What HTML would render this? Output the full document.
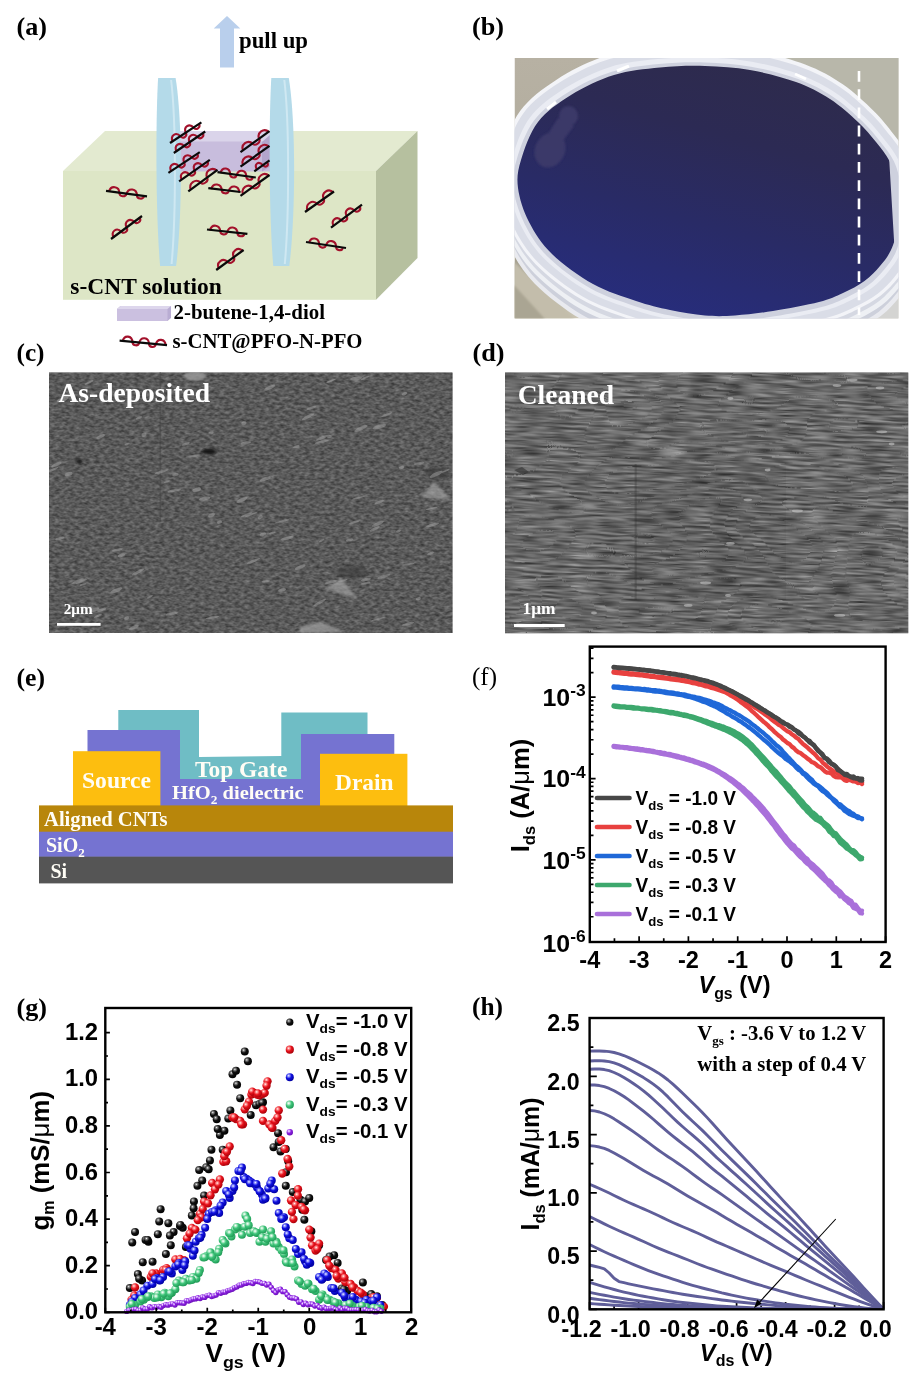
<!DOCTYPE html>
<html lang="en">
<head>
<meta charset="utf-8">
<title>Aligned s-CNT film figure</title>
<style>
html,body{margin:0;padding:0;background:#fff;}
body{width:913px;height:1381px;overflow:hidden;}
svg{display:block;}
.ts{font-family:"Liberation Serif", "DejaVu Serif", serif;font-weight:bold;}
.ta{font-family:"Liberation Sans", "DejaVu Sans", sans-serif;font-weight:bold;}
</style>
</head>
<body>
<svg width="913" height="1381" viewBox="0 0 913 1381">
<defs>
<clipPath id="cb"><rect x="514.5" y="58" width="384" height="260.5"/></clipPath>
<linearGradient id="gw" x1="0.72" y1="0" x2="0.3" y2="1"><stop offset="0" stop-color="#2e2b4c"/><stop offset="0.3" stop-color="#2c2a54"/><stop offset="0.62" stop-color="#292b66"/><stop offset="1" stop-color="#272d7e"/></linearGradient>
<linearGradient id="gbg" x1="0" y1="0" x2="0" y2="1"><stop offset="0" stop-color="#b7b1a3"/><stop offset="0.5" stop-color="#b1ac9d"/><stop offset="0.78" stop-color="#a6a190"/><stop offset="1" stop-color="#cbc5b3"/></linearGradient>
<filter id="bl1" x="-20%" y="-20%" width="140%" height="140%"><feGaussianBlur stdDeviation="0.7"/></filter>
<filter id="bl2" x="-20%" y="-20%" width="140%" height="140%"><feGaussianBlur stdDeviation="1.2"/></filter>
<filter id="bl4" x="-30%" y="-30%" width="160%" height="160%"><feGaussianBlur stdDeviation="3"/></filter>
<path id="well" d="M899 205 C899.25 212.67 898.83 220.5 897.5 228 C896.17 235.5 893.92 243.67 891 250 C888.08 256.33 884.42 260.83 880 266 C875.58 271.17 870.67 276.5 864.5 281 C858.33 285.5 850.58 289.5 843 293 C835.42 296.5 830.67 299 819 302 C807.33 305 787 308.75 773 311 C759 313.25 746.33 314.75 735 315.5 C723.67 316.25 715.83 316.42 705 315.5 C694.17 314.58 681.5 312.42 670 310 C658.5 307.58 648.83 305.33 636 301 C623.17 296.67 607 291.83 593 284 C579 276.17 562.67 264.33 552 254 C541.33 243.67 534.67 233 529 222 C523.33 211 519.33 198.33 518 188 C516.67 177.67 517.67 171 521 160 C524.33 149 529.67 132.83 538 122 C546.33 111.17 558.33 102.83 571 95 C583.67 87.17 599.17 79.58 614 75 C628.83 70.42 644.83 69 660 67.5 C675.17 66 690 65.58 705 66 C720 66.42 734.83 67.33 750 70 C765.17 72.67 782.67 77.17 796 82 C809.33 86.83 819.67 92.33 830 99 C840.33 105.67 850.33 114.83 858 122 C865.67 129.17 870.75 135.5 876 142 C881.25 148.5 886.17 154.33 889.5 161 C892.83 167.67 894.42 174.67 896 182 C897.58 189.33 898.75 197.33 899 205Z"/>
<clipPath id="cflat"><polygon points="500,40 889.3,40 889.3,161 894.2,243 894.2,340 500,340"/></clipPath>
<filter id="nc" x="0" y="0" width="100%" height="100%" color-interpolation-filters="sRGB"><feTurbulence type="fractalNoise" baseFrequency="0.2 0.36" numOctaves="2" seed="7" result="n"/><feColorMatrix in="n" type="matrix" values="0.36 0 0 0 0.172  0.36 0 0 0 0.172  0.36 0 0 0 0.172  0 0 0 0 1"/></filter>
<clipPath id="cc"><rect x="49" y="372.5" width="403.5" height="260.5"/></clipPath>
<filter id="nd" x="0" y="0" width="100%" height="100%" color-interpolation-filters="sRGB"><feTurbulence type="fractalNoise" baseFrequency="0.035 0.42" numOctaves="2" seed="11" result="n"/><feTurbulence type="fractalNoise" baseFrequency="0.012 0.022" numOctaves="1" seed="4" result="w"/><feDisplacementMap in="n" in2="w" scale="11" xChannelSelector="R" yChannelSelector="G" result="d"/><feColorMatrix in="d" type="matrix" values="0.62 0 0 0 0.096  0.62 0 0 0 0.096  0.62 0 0 0 0.096  0 0 0 0 1"/></filter>
<clipPath id="cd"><rect x="505" y="372.5" width="403.3" height="260.8"/></clipPath>
<radialGradient id="rgk" cx="0.36" cy="0.32" r="0.7"><stop offset="0" stop-color="#ffffff"/><stop offset="0.16" stop-color="#8a8a8a"/><stop offset="0.5" stop-color="#111111"/><stop offset="1" stop-color="#000000"/></radialGradient>
<radialGradient id="rgr" cx="0.36" cy="0.32" r="0.7"><stop offset="0" stop-color="#ffffff"/><stop offset="0.16" stop-color="#ff9a9a"/><stop offset="0.5" stop-color="#e8121c"/><stop offset="1" stop-color="#a80008"/></radialGradient>
<radialGradient id="rgb" cx="0.36" cy="0.32" r="0.7"><stop offset="0" stop-color="#ffffff"/><stop offset="0.16" stop-color="#9aa0ff"/><stop offset="0.5" stop-color="#1010e0"/><stop offset="1" stop-color="#0000a0"/></radialGradient>
<radialGradient id="rgg" cx="0.36" cy="0.32" r="0.7"><stop offset="0" stop-color="#ffffff"/><stop offset="0.16" stop-color="#c9f2d8"/><stop offset="0.5" stop-color="#3fc47a"/><stop offset="1" stop-color="#1f9a55"/></radialGradient>
<radialGradient id="rgp" cx="0.36" cy="0.32" r="0.7"><stop offset="0" stop-color="#ffffff"/><stop offset="0.16" stop-color="#dcb4ff"/><stop offset="0.5" stop-color="#8a20e0"/><stop offset="1" stop-color="#6a10b8"/></radialGradient>
<clipPath id="ch"><rect x="589.6" y="1018" width="294" height="291.3"/></clipPath>
</defs>
<rect width="913" height="1381" fill="#ffffff"/>
<text class="ts" x="16.5" y="34.5" font-size="26" textLength="30.5" lengthAdjust="spacingAndGlyphs">(a)</text>
<text class="ts" x="472" y="34.5" font-size="26" textLength="32" lengthAdjust="spacingAndGlyphs">(b)</text>
<text class="ts" x="16.5" y="361" font-size="26" textLength="28" lengthAdjust="spacingAndGlyphs">(c)</text>
<text class="ts" x="472.5" y="361" font-size="26" textLength="32" lengthAdjust="spacingAndGlyphs">(d)</text>
<text class="ts" x="16.5" y="686.3" font-size="26" textLength="28.5" lengthAdjust="spacingAndGlyphs">(e)</text>
<text class="ts" x="472" y="685.3" font-size="26" textLength="25" lengthAdjust="spacingAndGlyphs" style="font-weight:normal;">(f)</text>
<text class="ts" x="16.5" y="1016.4" font-size="26" textLength="30.5" lengthAdjust="spacingAndGlyphs">(g)</text>
<text class="ts" x="472" y="1014.6" font-size="26" textLength="31" lengthAdjust="spacingAndGlyphs">(h)</text>
<g id="pa">
<path d="M227 16 L240.3 28.5 L234 28.5 L234 67.5 L220 67.5 L220 28.5 L213.7 28.5 Z" fill="#b9cfec"/>
<text class="ts" x="239" y="48" font-size="22.8" textLength="69" lengthAdjust="spacingAndGlyphs">pull up</text>
<polygon points="63,171 105,131 417.5,131 376,171" fill="#e3ead0"/>
<polygon points="376,171 417.5,131 417.5,258 376,299.8" fill="#b6c09f"/>
<rect x="63" y="171" width="313" height="128.8" fill="#dde6c6"/>
<rect x="180" y="131" width="91" height="40.5" fill="#c8bddd"/>
<rect x="180" y="131" width="91" height="10.5" fill="#dad4ea"/>
<polygon points="262,142 271,134 271,166 262,171.5" fill="#b3a5cc"/>
<path d="M158.1 78 L175.6 78 C182.6 120 182.6 215 176.1 266 L160.1 266 C155.6 215 155.6 120 158.1 78 Z" fill="#b4dae9"/>
<path d="M171.1 80 C176.1 120 176.1 215 171.6 264" fill="none" stroke="#cfe8f2" stroke-width="2"/>
<path d="M271.3 78 L288.8 78 C295.8 120 295.8 215 289.3 266 L273.3 266 C268.8 215 268.8 120 271.3 78 Z" fill="#b4dae9"/>
<path d="M284.3 80 C289.3 120 289.3 215 284.8 264" fill="none" stroke="#cfe8f2" stroke-width="2"/>
<g transform="translate(170 143) rotate(-33.39)"><path d="M3 0.6 C3.95 -6.5 11.53 -6.5 12.48 0.6 C13.11 4 18.17 4 18.8 0.6 C19.75 -6.5 27.34 -6.5 28.29 0.6 C28.92 4 33.98 4 34.61 0.6" fill="none" stroke="#a3112b" stroke-width="2.1"/><line x1="0" y1="0" x2="37.61" y2="0" stroke="#0a0a0a" stroke-width="2.2"/></g>
<g transform="translate(173.8 153) rotate(-34.4)"><path d="M3 0.6 C3.96 -6.5 11.65 -6.5 12.62 0.6 C13.26 4 18.39 4 19.03 0.6 C19.99 -6.5 27.68 -6.5 28.64 0.6 C29.29 4 34.41 4 35.06 0.6" fill="none" stroke="#a3112b" stroke-width="2.1"/><line x1="0" y1="0" x2="38.06" y2="0" stroke="#0a0a0a" stroke-width="2.2"/></g>
<g transform="translate(168.4 172.9) rotate(-33.39)"><path d="M3 0.6 C3.95 -6.5 11.53 -6.5 12.48 0.6 C13.11 4 18.17 4 18.8 0.6 C19.75 -6.5 27.34 -6.5 28.29 0.6 C28.92 4 33.98 4 34.61 0.6" fill="none" stroke="#a3112b" stroke-width="2.1"/><line x1="0" y1="0" x2="37.61" y2="0" stroke="#0a0a0a" stroke-width="2.2"/></g>
<g transform="translate(179.1 181.3) rotate(-35)"><path d="M3 0.6 C3.94 -6.5 11.5 -6.5 12.44 0.6 C13.07 4 18.11 4 18.74 0.6 C19.68 -6.5 27.24 -6.5 28.18 0.6 C28.81 4 33.85 4 34.48 0.6" fill="none" stroke="#a3112b" stroke-width="2.1"/><line x1="0" y1="0" x2="37.48" y2="0" stroke="#0a0a0a" stroke-width="2.2"/></g>
<g transform="translate(188.3 191.3) rotate(-36.36)"><path d="M3 0.6 C4.21 -6.5 13.89 -6.5 15.1 0.6 C15.91 4 22.37 4 23.17 0.6 C24.38 -6.5 34.07 -6.5 35.28 0.6" fill="none" stroke="#a3112b" stroke-width="2.1"/><line x1="0" y1="0" x2="36.26" y2="0" stroke="#0a0a0a" stroke-width="2.2"/></g>
<g transform="translate(240.5 152.2) rotate(-35.91)"><path d="M3 0.6 C4.19 -6.5 13.73 -6.5 14.92 0.6 C15.72 4 22.08 4 22.87 0.6 C24.06 -6.5 33.6 -6.5 34.79 0.6" fill="none" stroke="#a3112b" stroke-width="2.1"/><line x1="0" y1="0" x2="35.81" y2="0" stroke="#0a0a0a" stroke-width="2.2"/></g>
<g transform="translate(240.5 166.7) rotate(-35.78)"><path d="M3 0.6 C4.19 -6.5 13.71 -6.5 14.9 0.6 C15.69 4 22.04 4 22.83 0.6 C24.02 -6.5 33.54 -6.5 34.73 0.6" fill="none" stroke="#a3112b" stroke-width="2.1"/><line x1="0" y1="0" x2="35.75" y2="0" stroke="#0a0a0a" stroke-width="2.2"/></g>
<g transform="translate(254.3 171.3) rotate(-35.64)"><path d="M3 0.6 C3.76 -6.5 9.86 -6.5 10.62 0.6 C11.13 4 15.2 4 15.7 0.6" fill="none" stroke="#a3112b" stroke-width="2.1"/><line x1="0" y1="0" x2="18.7" y2="0" stroke="#0a0a0a" stroke-width="2.2"/></g>
<g transform="translate(217.5 172.1) rotate(8.03)"><path d="M3 0.6 C3.98 -6.5 11.82 -6.5 12.8 0.6 C13.46 4 18.69 4 19.34 0.6 C20.32 -6.5 28.16 -6.5 29.14 0.6 C29.8 4 35.03 4 35.68 0.6" fill="none" stroke="#a3112b" stroke-width="2.1"/><line x1="0" y1="0" x2="38.68" y2="0" stroke="#0a0a0a" stroke-width="2.2"/></g>
<g transform="translate(208.3 188.2) rotate(6.73)"><path d="M3 0.6 C4.06 -6.5 12.51 -6.5 13.57 0.6 C14.27 4 19.91 4 20.62 0.6 C21.67 -6.5 30.13 -6.5 31.19 0.6" fill="none" stroke="#a3112b" stroke-width="2.1"/><line x1="0" y1="0" x2="32.42" y2="0" stroke="#0a0a0a" stroke-width="2.2"/></g>
<g transform="translate(240.5 195.9) rotate(-35.78)"><path d="M3 0.6 C4.19 -6.5 13.71 -6.5 14.9 0.6 C15.69 4 22.04 4 22.83 0.6 C24.02 -6.5 33.54 -6.5 34.73 0.6" fill="none" stroke="#a3112b" stroke-width="2.1"/><line x1="0" y1="0" x2="35.75" y2="0" stroke="#0a0a0a" stroke-width="2.2"/></g>
<g transform="translate(106 190.8) rotate(7.64)"><path d="M3 0.6 C4.06 -6.5 12.55 -6.5 13.61 0.6 C14.32 4 19.98 4 20.68 0.6 C21.74 -6.5 30.23 -6.5 31.29 0.6 C32 4 37.66 4 38.37 0.6" fill="none" stroke="#a3112b" stroke-width="2.1"/><line x1="0" y1="0" x2="41.37" y2="0" stroke="#0a0a0a" stroke-width="2.2"/></g>
<g transform="translate(111 239) rotate(-36.57)"><path d="M3 0.6 C3.98 -6.5 11.8 -6.5 12.78 0.6 C13.43 4 18.65 4 19.3 0.6 C20.28 -6.5 28.1 -6.5 29.08 0.6 C29.73 4 34.95 4 35.6 0.6" fill="none" stroke="#a3112b" stroke-width="2.1"/><line x1="0" y1="0" x2="38.6" y2="0" stroke="#0a0a0a" stroke-width="2.2"/></g>
<g transform="translate(207 229.5) rotate(6.08)"><path d="M3 0.6 C4.04 -6.5 12.35 -6.5 13.39 0.6 C14.08 4 19.62 4 20.31 0.6 C21.35 -6.5 29.66 -6.5 30.7 0.6 C31.4 4 36.94 4 37.63 0.6" fill="none" stroke="#a3112b" stroke-width="2.1"/><line x1="0" y1="0" x2="40.63" y2="0" stroke="#0a0a0a" stroke-width="2.2"/></g>
<g transform="translate(216.2 270) rotate(-36.13)"><path d="M3 0.6 C4.12 -6.5 13.05 -6.5 14.17 0.6 C14.91 4 20.87 4 21.62 0.6 C22.73 -6.5 31.67 -6.5 32.78 0.6" fill="none" stroke="#a3112b" stroke-width="2.1"/><line x1="0" y1="0" x2="33.92" y2="0" stroke="#0a0a0a" stroke-width="2.2"/></g>
<g transform="translate(305 212) rotate(-35.26)"><path d="M3 0.6 C4.18 -6.5 13.63 -6.5 14.81 0.6 C15.59 4 21.89 4 22.68 0.6 C23.86 -6.5 33.3 -6.5 34.48 0.6" fill="none" stroke="#a3112b" stroke-width="2.1"/><line x1="0" y1="0" x2="35.51" y2="0" stroke="#0a0a0a" stroke-width="2.2"/></g>
<g transform="translate(331 227.6) rotate(-36.57)"><path d="M3 0.6 C3.98 -6.5 11.8 -6.5 12.78 0.6 C13.43 4 18.65 4 19.3 0.6 C20.28 -6.5 28.1 -6.5 29.08 0.6 C29.73 4 34.95 4 35.6 0.6" fill="none" stroke="#a3112b" stroke-width="2.1"/><line x1="0" y1="0" x2="38.6" y2="0" stroke="#0a0a0a" stroke-width="2.2"/></g>
<g transform="translate(306 242) rotate(8.53)"><path d="M3 0.6 C4.03 -6.5 12.3 -6.5 13.33 0.6 C14.02 4 19.53 4 20.22 0.6 C21.26 -6.5 29.52 -6.5 30.56 0.6 C31.25 4 36.76 4 37.45 0.6" fill="none" stroke="#a3112b" stroke-width="2.1"/><line x1="0" y1="0" x2="40.45" y2="0" stroke="#0a0a0a" stroke-width="2.2"/></g>
<text class="ts" x="70.3" y="294" font-size="23.4" textLength="151.5" lengthAdjust="spacingAndGlyphs">s-CNT solution</text>
<polygon points="117,309 120.5,306 171,306 171,318 167.5,321 117,321" fill="#b9add3"/>
<rect x="117" y="309" width="50.5" height="12" fill="#cbc0e0"/>
<polygon points="117,309 120.5,306 171,306 167.5,309" fill="#ddd6ec"/>
<text class="ts" x="173.5" y="319.3" font-size="20.9" textLength="151.5" lengthAdjust="spacingAndGlyphs">2-butene-1,4-diol</text>
<g transform="translate(119.6 340.6) rotate(5.54)"><path d="M3 0.6 C4 -6.5 11.99 -6.5 12.99 0.6 C13.66 4 18.98 4 19.65 0.6 C20.65 -6.5 28.64 -6.5 29.64 0.6 C30.3 4 35.63 4 36.3 0.6 C37.3 -6.5 45.29 -6.5 46.29 0.6" fill="none" stroke="#a3112b" stroke-width="2.1"/><line x1="0" y1="0" x2="47.62" y2="0" stroke="#0a0a0a" stroke-width="2.2"/></g>
<text class="ts" x="172.5" y="347.8" font-size="20.8" textLength="190" lengthAdjust="spacingAndGlyphs">s-CNT@PFO-N-PFO</text>
</g>
<g id="pb" clip-path="url(#cb)">
<rect x="514.5" y="58" width="384" height="260.5" fill="url(#gbg)"/>
<rect x="780" y="58" width="120" height="100" fill="#b8b7aa"/>
<polygon points="514,262 575,319 514,319" fill="#c3bdab" filter="url(#bl2)"/>
<polygon points="514,285 545,319 514,319" fill="#aaa593" filter="url(#bl2)"/>
<rect x="850" y="262" width="50" height="60" fill="#d4d4d2"/>
<use href="#well" transform="translate(708.5 209.7) scale(1.1102 1.1683) translate(-708.5 -190.7)" fill="#e9eaef"/>
<use href="#well" transform="translate(708.5 208.7) scale(1.0919 1.1402) translate(-708.5 -190.7)" fill="#cdd0db"/>
<use href="#well" transform="translate(708.5 199.7) scale(1.1102 1.1683) translate(-708.5 -190.7)" fill="#eef0f4"/>
<use href="#well" transform="translate(708.5 197.7) scale(1.0945 1.1442) translate(-708.5 -190.7)" fill="#d5d8e2"/>
<use href="#well" transform="translate(708.5 190.7) scale(1.1050 1.1603) translate(-708.5 -190.7)" fill="#f3f4f8"/>
<use href="#well" transform="translate(708.5 191.2) scale(1.0866 1.1322) translate(-708.5 -190.7)" fill="#dadde7"/>
<use href="#well" transform="translate(708.5 191.2) scale(1.0472 1.0721) translate(-708.5 -190.7)" fill="#eaecf3"/>
<use href="#well" transform="translate(708.5 191.7) scale(1.0236 1.0361) translate(-708.5 -190.7)" fill="#ced1de"/>
<g clip-path="url(#cflat)"><use href="#well" fill="url(#gw)"/></g>
<g filter="url(#bl2)" fill="#3e3b6a" opacity="0.9"><ellipse cx="568.5" cy="116" rx="9.5" ry="10"/><ellipse cx="550" cy="150" rx="15" ry="18" transform="rotate(25 550 150)"/><polygon points="558,118 574,126 562,142 548,134"/></g>
<path d="M547 109 L556 102" stroke="#fff" stroke-width="3" filter="url(#bl1)"/>
<path d="M617 71 L629 66" stroke="#fff" stroke-width="3" filter="url(#bl1)"/>
<path d="M795 74 L806 79" stroke="#fff" stroke-width="2.5" filter="url(#bl1)"/>
<line x1="859" y1="71" x2="859" y2="315" stroke="#fff" stroke-width="2.6" stroke-dasharray="10.8 7.4"/>
</g>
<g id="pc" clip-path="url(#cc)">
<rect x="49" y="372.5" width="403.5" height="260.5" fill="#5b5b5b"/>
<rect x="49" y="372.5" width="403.5" height="260.5" filter="url(#nc)"/>
<g filter="url(#bl2)">
<polygon points="434,482 421,497.5 452,500" fill="#a8a8a8" opacity="0.6"/>
<polygon points="340.8,578 325.6,589 358.4,599" fill="#a8a8a8" opacity="0.6"/>
<ellipse cx="437" cy="473" rx="12" ry="6" fill="#333" opacity="0.55"/>
<ellipse cx="352" cy="572" rx="16" ry="7" fill="#383838" opacity="0.5"/>
<ellipse cx="195" cy="376" rx="11" ry="5" fill="#9a9a9a" opacity="0.8"/>
<ellipse cx="209" cy="451.5" rx="7.5" ry="2.8" fill="#141414"/>
<ellipse cx="79.5" cy="461.5" rx="3.2" ry="2.2" fill="#1a1a1a"/>
<polygon points="300,627 320,622 345,632 300,633" fill="#a0a0a0" opacity="0.7"/>
</g>
<rect x="159.5" y="372" width="1.6" height="150" fill="#3d3d3d" opacity="0.4"/>
<g fill="#a4a4a4" opacity="0.5" filter="url(#bl1)"><ellipse cx="117.32" cy="549.82" rx="5.67" ry="1.43" transform="rotate(-12.75 117.32 549.82)"/><ellipse cx="365.88" cy="579.58" rx="5.06" ry="1.46" transform="rotate(-13.19 365.88 579.58)"/><ellipse cx="53.26" cy="469.5" rx="5.43" ry="0.98" transform="rotate(-25.46 53.26 469.5)"/><ellipse cx="143.97" cy="434.64" rx="2.71" ry="2" transform="rotate(-24.25 143.97 434.64)"/><ellipse cx="398.52" cy="531.2" rx="2.67" ry="1.26" transform="rotate(-18.95 398.52 531.2)"/><ellipse cx="97.86" cy="615.89" rx="4.34" ry="1.07" transform="rotate(-25.99 97.86 615.89)"/><ellipse cx="101.45" cy="609.84" rx="4.77" ry="1.51" transform="rotate(-15.54 101.45 609.84)"/><ellipse cx="243.94" cy="423.1" rx="2.69" ry="1.85" transform="rotate(-13.17 243.94 423.1)"/><ellipse cx="360.98" cy="428.56" rx="7.34" ry="1.88" transform="rotate(-24.61 360.98 428.56)"/><ellipse cx="354.07" cy="522.35" rx="6.15" ry="1.03" transform="rotate(-18.48 354.07 522.35)"/><ellipse cx="379.5" cy="426.67" rx="7.12" ry="1.88" transform="rotate(-17.01 379.5 426.67)"/><ellipse cx="196.63" cy="489.73" rx="4.43" ry="1.99" transform="rotate(-16.51 196.63 489.73)"/><ellipse cx="62.63" cy="399.5" rx="6.09" ry="1.99" transform="rotate(-18.91 62.63 399.5)"/><ellipse cx="246.65" cy="514.71" rx="6.24" ry="1.14" transform="rotate(-21.4 246.65 514.71)"/><ellipse cx="272.37" cy="532.9" rx="3.4" ry="1.09" transform="rotate(-15.66 272.37 532.9)"/><ellipse cx="419.12" cy="463.35" rx="5.49" ry="1.24" transform="rotate(-10.27 419.12 463.35)"/><ellipse cx="78" cy="581.05" rx="6.39" ry="1.31" transform="rotate(-23.03 78 581.05)"/><ellipse cx="319.66" cy="602.47" rx="7.29" ry="1.35" transform="rotate(-29.76 319.66 602.47)"/><ellipse cx="432.73" cy="524.81" rx="6.92" ry="1.44" transform="rotate(-16.26 432.73 524.81)"/><ellipse cx="149.89" cy="596.79" rx="3.31" ry="0.98" transform="rotate(-25.72 149.89 596.79)"/><ellipse cx="358.47" cy="497.76" rx="6.68" ry="0.96" transform="rotate(-13.68 358.47 497.76)"/><ellipse cx="166.79" cy="481.73" rx="3.35" ry="0.98" transform="rotate(-15.44 166.79 481.73)"/><ellipse cx="408.06" cy="623.83" rx="6.23" ry="1.43" transform="rotate(-13.55 408.06 623.83)"/><ellipse cx="431.72" cy="508.46" rx="6.14" ry="0.93" transform="rotate(-12.67 431.72 508.46)"/><ellipse cx="383.95" cy="576.4" rx="6.91" ry="1.56" transform="rotate(-17.37 383.95 576.4)"/><ellipse cx="282.13" cy="590.03" rx="4.04" ry="1.49" transform="rotate(-14.07 282.13 590.03)"/><ellipse cx="356.23" cy="378.58" rx="5.93" ry="1.95" transform="rotate(-8.52 356.23 378.58)"/><ellipse cx="287.1" cy="538.25" rx="6.76" ry="1.54" transform="rotate(-13.66 287.1 538.25)"/><ellipse cx="212.62" cy="617.6" rx="7.03" ry="1.05" transform="rotate(-10.09 212.62 617.6)"/><ellipse cx="89.2" cy="382.38" rx="4.73" ry="1.05" transform="rotate(-27.08 89.2 382.38)"/><ellipse cx="311.51" cy="407.89" rx="5.19" ry="1.26" transform="rotate(-18.87 311.51 407.89)"/><ellipse cx="138.96" cy="417.85" rx="3.42" ry="1.32" transform="rotate(-23.62 138.96 417.85)"/><ellipse cx="269.81" cy="387.64" rx="6.05" ry="1.86" transform="rotate(-25.03 269.81 387.64)"/><ellipse cx="365.13" cy="377.97" rx="4.82" ry="0.97" transform="rotate(-24.81 365.13 377.97)"/><ellipse cx="121.42" cy="555.29" rx="3.76" ry="1.67" transform="rotate(-14.9 121.42 555.29)"/><ellipse cx="68.6" cy="474" rx="4.05" ry="1.89" transform="rotate(-14.49 68.6 474)"/><ellipse cx="251.24" cy="514.43" rx="7.24" ry="1.01" transform="rotate(-21.23 251.24 514.43)"/><ellipse cx="253.25" cy="561.11" rx="7.34" ry="1.24" transform="rotate(-23.39 253.25 561.11)"/><ellipse cx="260.21" cy="517.29" rx="2.82" ry="1.8" transform="rotate(-29.49 260.21 517.29)"/><ellipse cx="192.67" cy="456.16" rx="7.47" ry="1.02" transform="rotate(-9.67 192.67 456.16)"/><ellipse cx="81.04" cy="581.21" rx="6.3" ry="1.39" transform="rotate(-21.67 81.04 581.21)"/><ellipse cx="59.83" cy="538.45" rx="4.71" ry="1.47" transform="rotate(-16.57 59.83 538.45)"/><ellipse cx="211" cy="432.82" rx="2.74" ry="1.38" transform="rotate(-13.44 211 432.82)"/><ellipse cx="330.85" cy="581.96" rx="6.12" ry="1.4" transform="rotate(-13.2 330.85 581.96)"/><ellipse cx="204.62" cy="498.67" rx="5.66" ry="1.96" transform="rotate(-9.88 204.62 498.67)"/><ellipse cx="241.96" cy="499.95" rx="6.09" ry="1.88" transform="rotate(-25.15 241.96 499.95)"/><ellipse cx="300.22" cy="567.15" rx="5.84" ry="1.84" transform="rotate(-23.38 300.22 567.15)"/><ellipse cx="322.46" cy="437.82" rx="7.08" ry="1.32" transform="rotate(-21.52 322.46 437.82)"/><ellipse cx="378.63" cy="618.85" rx="7.45" ry="0.91" transform="rotate(-14.88 378.63 618.85)"/><ellipse cx="175.45" cy="474.59" rx="3.23" ry="1.51" transform="rotate(-9.75 175.45 474.59)"/><ellipse cx="171.83" cy="613.77" rx="6.21" ry="1.41" transform="rotate(-10.38 171.83 613.77)"/><ellipse cx="430.58" cy="553.4" rx="3.53" ry="1.27" transform="rotate(-22.11 430.58 553.4)"/><ellipse cx="321.93" cy="441.74" rx="7.26" ry="1.25" transform="rotate(-13.59 321.93 441.74)"/><ellipse cx="386.77" cy="414.66" rx="5.91" ry="1.12" transform="rotate(-21.16 386.77 414.66)"/><ellipse cx="161.85" cy="471.51" rx="7.2" ry="1.41" transform="rotate(-17.61 161.85 471.51)"/><ellipse cx="296.37" cy="446.72" rx="3.37" ry="1.32" transform="rotate(-13.99 296.37 446.72)"/><ellipse cx="126.63" cy="618.12" rx="2.67" ry="1.79" transform="rotate(-28.56 126.63 618.12)"/><ellipse cx="331.02" cy="380.78" rx="5.01" ry="0.94" transform="rotate(-21.37 331.02 380.78)"/><ellipse cx="329.36" cy="436.54" rx="2.54" ry="1.5" transform="rotate(-10.08 329.36 436.54)"/><ellipse cx="174.35" cy="490.43" rx="6.97" ry="1.31" transform="rotate(-10.97 174.35 490.43)"/><ellipse cx="365.52" cy="583.23" rx="5.15" ry="0.95" transform="rotate(-12.13 365.52 583.23)"/><ellipse cx="211.58" cy="515.08" rx="3.63" ry="1.78" transform="rotate(-26.56 211.58 515.08)"/><ellipse cx="418.36" cy="598.66" rx="2.59" ry="1.54" transform="rotate(-9.77 418.36 598.66)"/><ellipse cx="408.27" cy="564.23" rx="6.3" ry="1.11" transform="rotate(-9.31 408.27 564.23)"/><ellipse cx="374.82" cy="528.84" rx="5.6" ry="1.42" transform="rotate(-25.6 374.82 528.84)"/><ellipse cx="185.85" cy="443.97" rx="4.27" ry="1.23" transform="rotate(-21.8 185.85 443.97)"/><ellipse cx="404.5" cy="393.9" rx="2.84" ry="1.46" transform="rotate(-22.92 404.5 393.9)"/><ellipse cx="127.15" cy="444" rx="2.79" ry="0.94" transform="rotate(-18.89 127.15 444)"/><ellipse cx="321.58" cy="540.6" rx="3.29" ry="1.01" transform="rotate(-28.48 321.58 540.6)"/><ellipse cx="265.27" cy="478.92" rx="5.95" ry="1.7" transform="rotate(-19.54 265.27 478.92)"/><ellipse cx="83.01" cy="584.47" rx="3.57" ry="0.94" transform="rotate(-15.75 83.01 584.47)"/><ellipse cx="262.89" cy="534.31" rx="3.37" ry="1.68" transform="rotate(-18.86 262.89 534.31)"/><ellipse cx="116.16" cy="590.44" rx="6.53" ry="1.9" transform="rotate(-22.95 116.16 590.44)"/><ellipse cx="138.06" cy="571.97" rx="7.01" ry="1.49" transform="rotate(-27.99 138.06 571.97)"/><ellipse cx="436.19" cy="474.32" rx="7.21" ry="1.93" transform="rotate(-25.47 436.19 474.32)"/><ellipse cx="56.45" cy="464.68" rx="5.57" ry="1.57" transform="rotate(-24.62 56.45 464.68)"/><ellipse cx="308.16" cy="416.69" rx="7.15" ry="1.49" transform="rotate(-27.4 308.16 416.69)"/><ellipse cx="133.9" cy="627.51" rx="5.27" ry="1.75" transform="rotate(-24.28 133.9 627.51)"/><ellipse cx="401.58" cy="467.31" rx="2.91" ry="1.35" transform="rotate(-11.92 401.58 467.31)"/><ellipse cx="265.78" cy="581.37" rx="4.31" ry="1.04" transform="rotate(-8.59 265.78 581.37)"/><ellipse cx="219.49" cy="522.27" rx="2.63" ry="1.63" transform="rotate(-12.64 219.49 522.27)"/><ellipse cx="94.39" cy="609.78" rx="5.12" ry="1.88" transform="rotate(-19.31 94.39 609.78)"/><ellipse cx="100.65" cy="436.49" rx="4.62" ry="1.6" transform="rotate(-24.96 100.65 436.49)"/><ellipse cx="349.55" cy="540" rx="3.76" ry="1.37" transform="rotate(-16.32 349.55 540)"/><ellipse cx="245.87" cy="442.9" rx="5.19" ry="1.4" transform="rotate(-8.78 245.87 442.9)"/><ellipse cx="377.87" cy="523.78" rx="6.51" ry="1.71" transform="rotate(-24.08 377.87 523.78)"/><ellipse cx="445.41" cy="470.97" rx="4.47" ry="0.9" transform="rotate(-22.62 445.41 470.97)"/><ellipse cx="282.27" cy="521.26" rx="7.49" ry="1.12" transform="rotate(-13 282.27 521.26)"/><ellipse cx="342.72" cy="580.72" rx="4.91" ry="0.96" transform="rotate(-16.15 342.72 580.72)"/><ellipse cx="379.24" cy="501.96" rx="4.81" ry="1.33" transform="rotate(-21.83 379.24 501.96)"/></g>
</g>
<text class="ts" x="58.4" y="402" font-size="27" textLength="151.6" lengthAdjust="spacingAndGlyphs" fill="#fff">As-deposited</text>
<text class="ts" x="63.7" y="614" font-size="15.5" textLength="29" lengthAdjust="spacingAndGlyphs" fill="#fff">2μm</text>
<rect x="57" y="623" width="43.6" height="2.8" fill="#fff"/>
<g id="pd" clip-path="url(#cd)">
<rect x="505" y="372.5" width="403.3" height="260.8" fill="#656565"/>
<g transform="rotate(2.2 706 503)"><rect x="480" y="350" width="460" height="310" filter="url(#nd)"/></g>
<rect x="636" y="466" width="150" height="134" fill="#000" opacity="0.05"/>
<rect x="634.6" y="464" width="2" height="136" fill="#2b2b2b" opacity="0.32"/>
<g fill="#d0d0d0" opacity="0.55" filter="url(#bl1)"><ellipse cx="730.4" cy="398.5" rx="3" ry="1.4"/><ellipse cx="837" cy="385.6" rx="4.3" ry="1.4"/><ellipse cx="881.7" cy="431.8" rx="5.6" ry="1.4"/><ellipse cx="891.6" cy="444" rx="3" ry="1.4"/><ellipse cx="747.8" cy="499.8" rx="4.3" ry="1.4"/><ellipse cx="797.4" cy="511" rx="5.6" ry="1.4"/><ellipse cx="767.6" cy="470" rx="3" ry="1.4"/><ellipse cx="730.4" cy="543.4" rx="4.3" ry="1.4"/><ellipse cx="705.6" cy="583" rx="5.6" ry="1.4"/><ellipse cx="728" cy="595.5" rx="3" ry="1.4"/><ellipse cx="688.2" cy="605.4" rx="4.3" ry="1.4"/><ellipse cx="839.6" cy="615.4" rx="5.6" ry="1.4"/><ellipse cx="594" cy="613" rx="3" ry="1.4"/><ellipse cx="880" cy="388" rx="4.3" ry="1.4"/><ellipse cx="852" cy="380" rx="5.6" ry="1.4"/></g>
<path d="M514 470 l8 -3 l7 5 l-6 3 z" fill="#2a2a2a" opacity="0.55" filter="url(#bl1)"/>
</g>
<text class="ts" x="517.7" y="404" font-size="27.5" textLength="96.3" lengthAdjust="spacingAndGlyphs" fill="#fff">Cleaned</text>
<text class="ts" x="522.5" y="613.6" font-size="17.5" textLength="33" lengthAdjust="spacingAndGlyphs" fill="#fff">1μm</text>
<rect x="514" y="624" width="50.7" height="3" fill="#fff"/>
<g id="pe">
<polygon points="118.3,710 199,710 199,757 281.3,756 281.3,712.6 367.5,712.6 367.5,734.5 301,734.5 301,779.5 180,779.5 180,730.5 118.3,730.5" fill="#6fbdc5"/>
<polygon points="87.5,730 180,730 180,779 301,779 301,734 394.3,734 394.3,754.5 320,754.5 320,806 160,806 160,752 87.5,752" fill="#7573d1"/>
<rect x="73" y="751.2" width="87.4" height="55" fill="#fdbe0f"/>
<rect x="320" y="753.8" width="87.4" height="52.4" fill="#fdbe0f"/>
<rect x="39" y="805.4" width="414" height="26.6" fill="#b8860b"/>
<rect x="39" y="831.7" width="414" height="25.2" fill="#7573d1"/>
<rect x="39" y="856.6" width="414" height="26.8" fill="#555555"/>
<text class="ts" x="82" y="788" font-size="23" textLength="69" lengthAdjust="spacingAndGlyphs" fill="#fffdf5">Source</text>
<text class="ts" x="335" y="789.6" font-size="23" textLength="58.5" lengthAdjust="spacingAndGlyphs" fill="#fffdf5">Drain</text>
<text class="ts" x="195" y="776.5" font-size="23" textLength="92.3" lengthAdjust="spacingAndGlyphs" fill="#fffdf5">Top Gate</text>
<text class="ts" x="172" y="799.3" font-size="19.2" textLength="131.6" lengthAdjust="spacingAndGlyphs" fill="#fffdf5">HfO<tspan font-size="12.5" dy="4.5">2</tspan><tspan dy="-4.5"> dielectric</tspan></text>
<text class="ts" x="44" y="826.4" font-size="20.6" textLength="123.5" lengthAdjust="spacingAndGlyphs" fill="#fffdf5">Aligned CNTs</text>
<text class="ts" x="46" y="852" font-size="20" fill="#fffdf5">SiO<tspan font-size="13" dy="4.5">2</tspan></text>
<text class="ts" x="50.5" y="877.7" font-size="20" fill="#fffdf5">Si</text>
</g>
<g id="pf">
<path d="M613.6 745.84 L615.8 746.14 L618 746.41 L620.2 746.71 L622.4 746.88 L624.6 747.19 L626.8 747.12 L629 747.52 L631.2 747.95 L633.4 748.11 L635.6 748.48 L637.8 748.49 L640 748.93 L642.2 749.17 L644.4 749.6 L646.6 749.94 L648.8 750.09 L651 750.51 L653.2 750.9 L655.4 751.5 L657.6 751.84 L659.8 752.03 L662 752.68 L664.2 752.89 L666.4 753.51 L668.6 753.8 L670.8 754.23 L673 755.01 L675.2 755.27 L677.4 755.79 L679.6 756.59 L681.8 757.11 L684 757.49 L686.2 758.34 L688.4 758.84 L690.6 759.57 L692.8 760.1 L695 761.07 L697.2 761.71 L699.4 762.55 L701.6 763.31 L703.8 763.93 L706 764.82 L708.2 765.68 L710.4 766.66 L712.6 767.69 L714.8 768.91 L717 770.21 L719.2 771.24 L721.4 772.72 L723.6 773.88 L725.8 775.2 L728 776.77 L730.2 778.1 L732.4 779.55 L734.6 781.19 L736.8 782.92 L739 784.41 L741.2 786.52 L743.4 788.05 L745.6 790.25 L747.8 792.29 L750 794.07 L752.2 796.48 L754.4 798.53 L756.6 800.86 L758.8 802.97 L761 805.37 L763.2 807.89 L765.4 810.82 L767.6 813.18 L769.8 816.29 L772 819.29 L774.2 822.25 L776.4 824.82 L778.6 827.75 L780.8 830.77 L783 833.8 L785.2 835.97 L787.4 839.13 L789.6 841.66 L791.8 844.12 L794 845.59 L796.2 848.79 L798.4 850.04 L800.6 852.46 L802.8 854.91 L805 857.41 L807.2 858.8 L809.4 861.71 L811.6 863.38 L813.8 865.24 L816 867.44 L818.2 869.43 L820.4 871.47 L822.6 873.81 L824.8 876.92 L827 879.68 L829.2 880.47 L831.4 882.47 L833.6 886.35 L835.8 887.69 L838 889.59 L840.2 891.34 L842.4 894.08 L844.6 896.56 L846.8 897.79 L849 899.7 L851.2 900.89 L853.4 904.76 L855.6 904.74 L857.8 907.74 L860 910.51 L862 910.62" fill="none" stroke="#a970da" stroke-width="4.3" stroke-linejoin="round" stroke-linecap="round"/>
<path d="M613.6 746.88 L615.8 747.23 L618 747.38 L620.2 747.69 L622.4 747.7 L624.6 748.07 L626.8 748.23 L629 748.73 L631.2 748.81 L633.4 749.14 L635.6 749.62 L637.8 749.87 L640 750.23 L642.2 750.38 L644.4 750.72 L646.6 751.15 L648.8 751.42 L651 751.71 L653.2 752.13 L655.4 752.43 L657.6 752.91 L659.8 753.54 L662 753.96 L664.2 754.3 L666.4 754.72 L668.6 755.13 L670.8 755.53 L673 756.08 L675.2 756.77 L677.4 757.32 L679.6 757.68 L681.8 758.4 L684 758.99 L686.2 759.59 L688.4 760.24 L690.6 760.96 L692.8 761.53 L695 762.37 L697.2 762.96 L699.4 763.79 L701.6 764.68 L703.8 765.49 L706 766.23 L708.2 767.39 L710.4 768.29 L712.6 769.33 L714.8 770.28 L717 771.67 L719.2 772.82 L721.4 774.32 L723.6 775.68 L725.8 777.3 L728 778.79 L730.2 780.45 L732.4 781.96 L734.6 783.81 L736.8 785.64 L739 787.55 L741.2 789.34 L743.4 791.54 L745.6 793.65 L747.8 795.75 L750 798.08 L752.2 800.38 L754.4 802.58 L756.6 805 L758.8 807.34 L761 810.07 L763.2 812.61 L765.4 815.02 L767.6 817.85 L769.8 820.7 L772 823.62 L774.2 826.21 L776.4 829.57 L778.6 832.38 L780.8 835.35 L783 837.99 L785.2 840.9 L787.4 843.65 L789.6 846.01 L791.8 848.49 L794 850.1 L796.2 852.46 L798.4 854.96 L800.6 857.36 L802.8 858.98 L805 861.67 L807.2 863.74 L809.4 865.1 L811.6 867.85 L813.8 869.7 L816 871.65 L818.2 873.96 L820.4 876.43 L822.6 878.36 L824.8 880.52 L827 882.39 L829.2 885.25 L831.4 887.22 L833.6 889.74 L835.8 891.8 L838 893.19 L840.2 896.47 L842.4 896.64 L844.6 899.36 L846.8 901 L849 903.17 L851.2 904.43 L853.4 907.9 L855.6 908.76 L857.8 909.85 L860 913.06 L862 913.53" fill="none" stroke="#a970da" stroke-width="4.3" stroke-linejoin="round" stroke-linecap="round"/>
<path d="M613.6 705.51 L615.8 705.64 L618 705.92 L620.2 706.25 L622.4 706.4 L624.6 706.45 L626.8 706.78 L629 706.92 L631.2 707.02 L633.4 707.15 L635.6 707.52 L637.8 707.73 L640 708.1 L642.2 708.34 L644.4 708.44 L646.6 708.59 L648.8 709.02 L651 708.95 L653.2 709.24 L655.4 709.67 L657.6 709.96 L659.8 710.09 L662 710.57 L664.2 710.99 L666.4 711.16 L668.6 711.53 L670.8 711.81 L673 712.19 L675.2 712.81 L677.4 712.99 L679.6 713.61 L681.8 714.04 L684 714.39 L686.2 714.78 L688.4 715.57 L690.6 715.99 L692.8 716.59 L695 717.23 L697.2 718.19 L699.4 718.77 L701.6 719.43 L703.8 720.23 L706 720.85 L708.2 721.78 L710.4 722.47 L712.6 723.16 L714.8 724.06 L717 724.77 L719.2 725.17 L721.4 726.03 L723.6 726.67 L725.8 727.69 L728 728.52 L730.2 729.33 L732.4 730.42 L734.6 731.51 L736.8 733 L739 734.03 L741.2 735.56 L743.4 737.08 L745.6 738.85 L747.8 740.71 L750 742.84 L752.2 744.85 L754.4 747.41 L756.6 749.67 L758.8 752.21 L761 754.6 L763.2 756.99 L765.4 759.51 L767.6 761.94 L769.8 764.36 L772 767.09 L774.2 769.51 L776.4 771.64 L778.6 774.27 L780.8 776.89 L783 779.74 L785.2 782.21 L787.4 784.39 L789.6 786.36 L791.8 789.56 L794 791.66 L796.2 794.27 L798.4 796.89 L800.6 799.32 L802.8 801.69 L805 804.74 L807.2 806.55 L809.4 808.94 L811.6 811.86 L813.8 813.01 L816 814.9 L818.2 817.33 L820.4 817.86 L822.6 821.03 L824.8 822.94 L827 824.71 L829.2 826.71 L831.4 829.87 L833.6 832.41 L835.8 833.26 L838 836.16 L840.2 838.63 L842.4 840.9 L844.6 842.88 L846.8 844.71 L849 847.66 L851.2 850.01 L853.4 850.08 L855.6 852.05 L857.8 854.97 L860 856.5 L862 857.69" fill="none" stroke="#3da86d" stroke-width="4.3" stroke-linejoin="round" stroke-linecap="round"/>
<path d="M613.6 706.34 L615.8 706.79 L618 707.09 L620.2 707.3 L622.4 707.4 L624.6 707.37 L626.8 707.85 L629 707.84 L631.2 708.2 L633.4 708.53 L635.6 708.67 L637.8 708.69 L640 708.99 L642.2 709.45 L644.4 709.43 L646.6 709.83 L648.8 710.02 L651 710.18 L653.2 710.61 L655.4 710.68 L657.6 710.99 L659.8 711.39 L662 711.6 L664.2 711.94 L666.4 712.47 L668.6 712.89 L670.8 713.3 L673 713.41 L675.2 713.9 L677.4 714.27 L679.6 714.79 L681.8 715.2 L684 715.84 L686.2 716.16 L688.4 716.6 L690.6 717.41 L692.8 717.86 L695 718.72 L697.2 719.41 L699.4 720.31 L701.6 721.03 L703.8 721.92 L706 722.69 L708.2 723.69 L710.4 724.48 L712.6 725.54 L714.8 726.33 L717 727.04 L719.2 727.89 L721.4 728.77 L723.6 729.76 L725.8 730.5 L728 731.71 L730.2 732.84 L732.4 733.86 L734.6 735.34 L736.8 736.47 L739 737.91 L741.2 739.57 L743.4 741.04 L745.6 743 L747.8 744.78 L750 746.82 L752.2 749.25 L754.4 751.35 L756.6 754.04 L758.8 756.3 L761 758.81 L763.2 761.57 L765.4 763.92 L767.6 766.18 L769.8 768.63 L772 771.65 L774.2 774.01 L776.4 776.66 L778.6 778.7 L780.8 781.56 L783 783.86 L785.2 786.25 L787.4 788.83 L789.6 791.59 L791.8 793.83 L794 796.34 L796.2 798.54 L798.4 801.81 L800.6 804.12 L802.8 806.79 L805 808.8 L807.2 811.73 L809.4 813.63 L811.6 815.96 L813.8 817.93 L816 819.87 L818.2 820.92 L820.4 822.09 L822.6 823.87 L824.8 826.19 L827 828.04 L829.2 831.68 L831.4 833.19 L833.6 835.92 L835.8 836.72 L838 839.8 L840.2 842.88 L842.4 844.63 L844.6 846.47 L846.8 848.65 L849 849.82 L851.2 851.67 L853.4 853.28 L855.6 855.27 L857.8 856.77 L860 859.4 L862 859.07" fill="none" stroke="#3da86d" stroke-width="4.3" stroke-linejoin="round" stroke-linecap="round"/>
<path d="M613.6 686.41 L615.8 686.6 L618 686.73 L620.2 686.94 L622.4 687.09 L624.6 687.35 L626.8 687.36 L629 687.84 L631.2 687.83 L633.4 688.21 L635.6 688.32 L637.8 688.51 L640 688.66 L642.2 689.04 L644.4 688.98 L646.6 689.41 L648.8 689.51 L651 689.9 L653.2 690.17 L655.4 690.24 L657.6 690.53 L659.8 690.75 L662 691.12 L664.2 691.37 L666.4 691.8 L668.6 692.31 L670.8 692.41 L673 692.7 L675.2 693.08 L677.4 693.35 L679.6 693.87 L681.8 694.24 L684 694.46 L686.2 694.94 L688.4 695.58 L690.6 696.18 L692.8 696.54 L695 696.96 L697.2 697.68 L699.4 697.9 L701.6 698.51 L703.8 699.39 L706 699.91 L708.2 700.47 L710.4 701.36 L712.6 702.27 L714.8 702.89 L717 703.71 L719.2 704.61 L721.4 705.67 L723.6 707.09 L725.8 708.11 L728 709.44 L730.2 710.3 L732.4 711.57 L734.6 712.71 L736.8 714.05 L739 715.17 L741.2 716.53 L743.4 717.94 L745.6 719.32 L747.8 720.74 L750 722.31 L752.2 724.28 L754.4 725.7 L756.6 727.55 L758.8 729.29 L761 731.14 L763.2 732.78 L765.4 734.78 L767.6 736.63 L769.8 738.84 L772 741.09 L774.2 742.94 L776.4 745.16 L778.6 746.75 L780.8 748.83 L783 751.61 L785.2 753.96 L787.4 756.42 L789.6 758.6 L791.8 761.09 L794 763.42 L796.2 765.86 L798.4 767.43 L800.6 769.77 L802.8 772.26 L805 773.56 L807.2 775.44 L809.4 777.7 L811.6 779.39 L813.8 782.32 L816 784.35 L818.2 785.51 L820.4 787.11 L822.6 788.92 L824.8 791.07 L827 792.72 L829.2 795.27 L831.4 797.64 L833.6 799.19 L835.8 800.86 L838 803.89 L840.2 804.4 L842.4 806.42 L844.6 808.26 L846.8 810.02 L849 810.9 L851.2 812.91 L853.4 813.8 L855.6 815.77 L857.8 816.24 L860 817.95 L862 818.27" fill="none" stroke="#1f68d8" stroke-width="4.3" stroke-linejoin="round" stroke-linecap="round"/>
<path d="M613.6 687.59 L615.8 687.71 L618 687.84 L620.2 688.15 L622.4 688.27 L624.6 688.54 L626.8 688.64 L629 688.81 L631.2 688.84 L633.4 689.22 L635.6 689.27 L637.8 689.39 L640 689.58 L642.2 689.85 L644.4 690.11 L646.6 690.5 L648.8 690.61 L651 690.78 L653.2 691.29 L655.4 691.49 L657.6 691.58 L659.8 691.88 L662 692.21 L664.2 692.6 L666.4 693.1 L668.6 693.45 L670.8 693.64 L673 693.83 L675.2 694.23 L677.4 694.55 L679.6 694.9 L681.8 695.18 L684 695.79 L686.2 696.33 L688.4 696.79 L690.6 697.14 L692.8 697.97 L695 698.55 L697.2 699.48 L699.4 700.16 L701.6 701.13 L703.8 701.91 L706 702.54 L708.2 703.51 L710.4 704.65 L712.6 705.45 L714.8 706.43 L717 707.51 L719.2 708.8 L721.4 710.12 L723.6 711.3 L725.8 712.81 L728 714.05 L730.2 715.23 L732.4 716.77 L734.6 717.92 L736.8 719.09 L739 720.75 L741.2 721.8 L743.4 723.42 L745.6 724.9 L747.8 726.63 L750 728.12 L752.2 729.79 L754.4 731.6 L756.6 733.4 L758.8 735.39 L761 737.2 L763.2 739.26 L765.4 740.92 L767.6 742.9 L769.8 744.8 L772 747.21 L774.2 749.15 L776.4 751.19 L778.6 753.05 L780.8 754.7 L783 756.25 L785.2 758.61 L787.4 760.08 L789.6 761.39 L791.8 763.35 L794 765.14 L796.2 767.66 L798.4 769.75 L800.6 770.87 L802.8 773.62 L805 775.07 L807.2 777.55 L809.4 779.81 L811.6 781.49 L813.8 783.72 L816 785.04 L818.2 786.39 L820.4 789.04 L822.6 791.05 L824.8 792.3 L827 794.55 L829.2 796.38 L831.4 797.96 L833.6 800.6 L835.8 802.75 L838 804.74 L840.2 806.95 L842.4 808.09 L844.6 810.94 L846.8 812.19 L849 813.9 L851.2 814.73 L853.4 815.81 L855.6 816.5 L857.8 818.02 L860 817.91 L862 819.32" fill="none" stroke="#1f68d8" stroke-width="4.3" stroke-linejoin="round" stroke-linecap="round"/>
<path d="M613.6 671.76 L615.8 671.92 L618 672.04 L620.2 672.18 L622.4 672.39 L624.6 672.68 L626.8 672.97 L629 673.24 L631.2 673.44 L633.4 673.51 L635.6 673.95 L637.8 673.96 L640 674.35 L642.2 674.38 L644.4 674.87 L646.6 675.1 L648.8 675.47 L651 675.73 L653.2 675.94 L655.4 676.27 L657.6 676.53 L659.8 676.78 L662 676.94 L664.2 677.35 L666.4 677.78 L668.6 677.85 L670.8 678.4 L673 678.54 L675.2 678.79 L677.4 678.95 L679.6 679.41 L681.8 679.66 L684 680.18 L686.2 680.65 L688.4 681.06 L690.6 681.39 L692.8 681.78 L695 682.17 L697.2 682.89 L699.4 683.38 L701.6 683.99 L703.8 684.45 L706 685.22 L708.2 685.6 L710.4 686.27 L712.6 686.91 L714.8 687.7 L717 688.48 L719.2 688.93 L721.4 689.85 L723.6 690.7 L725.8 691.33 L728 692.09 L730.2 693.17 L732.4 694.27 L734.6 695.38 L736.8 696.5 L739 697.62 L741.2 698.92 L743.4 700.29 L745.6 701.79 L747.8 702.9 L750 704.24 L752.2 705.75 L754.4 707.32 L756.6 708.52 L758.8 709.95 L761 711.47 L763.2 713.14 L765.4 714.78 L767.6 716.22 L769.8 717.87 L772 719.76 L774.2 721.47 L776.4 723.15 L778.6 724.81 L780.8 725.9 L783 727.77 L785.2 729.6 L787.4 731.24 L789.6 732.17 L791.8 734.23 L794 735.6 L796.2 737.62 L798.4 738.91 L800.6 741.53 L802.8 743.84 L805 745.54 L807.2 747.18 L809.4 749.38 L811.6 751.37 L813.8 753.32 L816 755.48 L818.2 758.25 L820.4 759.52 L822.6 762.55 L824.8 764.45 L827 766.43 L829.2 768.11 L831.4 769.51 L833.6 771.36 L835.8 772.81 L838 773.5 L840.2 775.39 L842.4 774.86 L844.6 775.94 L846.8 776.79 L849 777.9 L851.2 779.01 L853.4 779.88 L855.6 781.04 L857.8 781.85 L860 780.98 L862 782.37" fill="none" stroke="#e8413f" stroke-width="4.3" stroke-linejoin="round" stroke-linecap="round"/>
<path d="M613.6 672.72 L615.8 672.87 L618 673 L620.2 673.37 L622.4 673.5 L624.6 673.82 L626.8 673.96 L629 674.34 L631.2 674.55 L633.4 674.47 L635.6 674.93 L637.8 675.16 L640 675.25 L642.2 675.44 L644.4 675.83 L646.6 676.05 L648.8 676.46 L651 676.8 L653.2 676.9 L655.4 677.16 L657.6 677.52 L659.8 677.89 L662 678.23 L664.2 678.46 L666.4 678.67 L668.6 678.99 L670.8 679.46 L673 679.64 L675.2 679.78 L677.4 680.22 L679.6 680.47 L681.8 680.96 L684 681.11 L686.2 681.56 L688.4 681.91 L690.6 682.48 L692.8 683.13 L695 683.47 L697.2 683.93 L699.4 684.66 L701.6 684.93 L703.8 685.6 L706 686.36 L708.2 686.7 L710.4 687.6 L712.6 688.12 L714.8 688.67 L717 689.43 L719.2 690.22 L721.4 690.95 L723.6 691.81 L725.8 692.58 L728 693.75 L730.2 695.22 L732.4 696.34 L734.6 697.74 L736.8 699.07 L739 700.67 L741.2 702.5 L743.4 704.04 L745.6 705.64 L747.8 707.26 L750 709.27 L752.2 711.35 L754.4 713.22 L756.6 715.29 L758.8 717.44 L761 719.39 L763.2 721.42 L765.4 723.1 L767.6 725.05 L769.8 727.44 L772 729.25 L774.2 731.53 L776.4 733.5 L778.6 735.54 L780.8 737.05 L783 739.41 L785.2 741.06 L787.4 743.01 L789.6 744.16 L791.8 746.61 L794 748.13 L796.2 750.57 L798.4 752.23 L800.6 753.02 L802.8 754.95 L805 756.47 L807.2 758.41 L809.4 759.83 L811.6 761.97 L813.8 762.75 L816 764.34 L818.2 766.3 L820.4 767.21 L822.6 769.14 L824.8 771.36 L827 772.64 L829.2 772.64 L831.4 773.43 L833.6 775.91 L835.8 777.12 L838 777.31 L840.2 777.21 L842.4 778.13 L844.6 780.19 L846.8 780.93 L849 779.63 L851.2 780.47 L853.4 781.47 L855.6 781.55 L857.8 783.09 L860 782.66 L862 784.06" fill="none" stroke="#e8413f" stroke-width="4.3" stroke-linejoin="round" stroke-linecap="round"/>
<path d="M613.6 666.83 L615.8 667.15 L618 667.51 L620.2 667.6 L622.4 667.57 L624.6 667.77 L626.8 668.14 L629 668.24 L631.2 668.43 L633.4 668.68 L635.6 668.92 L637.8 669.28 L640 669.26 L642.2 669.62 L644.4 669.76 L646.6 670.12 L648.8 670.45 L651 670.51 L653.2 670.91 L655.4 671.28 L657.6 671.33 L659.8 671.9 L662 672.09 L664.2 672.43 L666.4 672.8 L668.6 673.18 L670.8 673.25 L673 673.74 L675.2 673.91 L677.4 674.38 L679.6 674.73 L681.8 674.99 L684 675.48 L686.2 675.95 L688.4 676.47 L690.6 677.03 L692.8 677.32 L695 677.88 L697.2 678.46 L699.4 679.08 L701.6 679.64 L703.8 680.24 L706 680.61 L708.2 681.2 L710.4 682.13 L712.6 682.54 L714.8 683.41 L717 684.33 L719.2 685.16 L721.4 686.07 L723.6 687.27 L725.8 688.11 L728 689.28 L730.2 690.46 L732.4 691.34 L734.6 692.57 L736.8 693.81 L739 695.05 L741.2 696.17 L743.4 697.51 L745.6 698.63 L747.8 699.92 L750 701.3 L752.2 702.55 L754.4 704.17 L756.6 705.27 L758.8 706.63 L761 708.17 L763.2 709.54 L765.4 710.71 L767.6 712.38 L769.8 713.7 L772 714.98 L774.2 716.55 L776.4 717.71 L778.6 719.13 L780.8 720.99 L783 722.01 L785.2 723.74 L787.4 724.46 L789.6 725.78 L791.8 727.1 L794 729.28 L796.2 730.68 L798.4 731.71 L800.6 733.43 L802.8 736.1 L805 737.5 L807.2 739.85 L809.4 740.68 L811.6 743.41 L813.8 744.83 L816 747.94 L818.2 750.12 L820.4 752.51 L822.6 754.27 L824.8 757.77 L827 758.58 L829.2 760.54 L831.4 763.61 L833.6 764.49 L835.8 766.31 L838 768.84 L840.2 770.89 L842.4 772.92 L844.6 773.97 L846.8 773.8 L849 775.99 L851.2 777.27 L853.4 776.4 L855.6 778.48 L857.8 777.98 L860 778.74 L862.2 778.76" fill="none" stroke="#474747" stroke-width="4.3" stroke-linejoin="round" stroke-linecap="round"/>
<path d="M613.6 667.54 L615.8 667.65 L618 667.98 L620.2 668.02 L622.4 668.09 L624.6 668.3 L626.8 668.51 L629 668.94 L631.2 668.88 L633.4 669.04 L635.6 669.34 L637.8 669.47 L640 669.82 L642.2 670.14 L644.4 670.4 L646.6 670.49 L648.8 670.74 L651 671.13 L653.2 671.48 L655.4 671.69 L657.6 672.03 L659.8 672.45 L662 672.49 L664.2 672.85 L666.4 673.25 L668.6 673.59 L670.8 674.05 L673 674.26 L675.2 674.63 L677.4 674.89 L679.6 675.38 L681.8 675.77 L684 675.98 L686.2 676.33 L688.4 676.83 L690.6 677.33 L692.8 678 L695 678.28 L697.2 678.93 L699.4 679.47 L701.6 680.14 L703.8 680.43 L706 681.27 L708.2 681.76 L710.4 682.34 L712.6 683.23 L714.8 684.05 L717 684.78 L719.2 685.49 L721.4 686.77 L723.6 687.58 L725.8 688.73 L728 689.84 L730.2 690.77 L732.4 691.94 L734.6 693.06 L736.8 694.17 L739 695.38 L741.2 696.84 L743.4 697.99 L745.6 699.42 L747.8 700.41 L750 701.79 L752.2 703.06 L754.4 704.66 L756.6 705.95 L758.8 707.34 L761 708.57 L763.2 709.77 L765.4 711.28 L767.6 712.58 L769.8 713.87 L772 715.58 L774.2 716.83 L776.4 718.12 L778.6 719.81 L780.8 721.53 L783 722.92 L785.2 723.87 L787.4 724.89 L789.6 726.88 L791.8 727.67 L794 729.58 L796.2 730.67 L798.4 733.31 L800.6 734.51 L802.8 736.13 L805 737.72 L807.2 739.94 L809.4 742.43 L811.6 743.69 L813.8 745.46 L816 748.14 L818.2 751.09 L820.4 752.65 L822.6 755.43 L824.8 758.22 L827 759.45 L829.2 762.34 L831.4 763.84 L833.6 765.08 L835.8 766.79 L838 770.25 L840.2 771.03 L842.4 772.52 L844.6 774.87 L846.8 775.36 L849 776.19 L851.2 776.55 L853.4 778.28 L855.6 777.85 L857.8 778.97 L860 780.32 L862.2 780.7" fill="none" stroke="#474747" stroke-width="4.3" stroke-linejoin="round" stroke-linecap="round"/>
<line x1="597" y1="798" x2="629.5" y2="798" stroke="#474747" stroke-width="4.6" stroke-linecap="round"/>
<text class="ta" x="635.5" y="804.8" font-size="19.5" textLength="100.5" lengthAdjust="spacingAndGlyphs">V<tspan font-size="13.5" dy="5">ds</tspan><tspan dy="-5"> = -1.0 V</tspan></text>
<line x1="597" y1="827" x2="629.5" y2="827" stroke="#e8413f" stroke-width="4.6" stroke-linecap="round"/>
<text class="ta" x="635.5" y="833.8" font-size="19.5" textLength="100.5" lengthAdjust="spacingAndGlyphs">V<tspan font-size="13.5" dy="5">ds</tspan><tspan dy="-5"> = -0.8 V</tspan></text>
<line x1="597" y1="856" x2="629.5" y2="856" stroke="#1f68d8" stroke-width="4.6" stroke-linecap="round"/>
<text class="ta" x="635.5" y="862.8" font-size="19.5" textLength="100.5" lengthAdjust="spacingAndGlyphs">V<tspan font-size="13.5" dy="5">ds</tspan><tspan dy="-5"> = -0.5 V</tspan></text>
<line x1="597" y1="885" x2="629.5" y2="885" stroke="#3da86d" stroke-width="4.6" stroke-linecap="round"/>
<text class="ta" x="635.5" y="891.8" font-size="19.5" textLength="100.5" lengthAdjust="spacingAndGlyphs">V<tspan font-size="13.5" dy="5">ds</tspan><tspan dy="-5"> = -0.3 V</tspan></text>
<line x1="597" y1="914" x2="629.5" y2="914" stroke="#a970da" stroke-width="4.6" stroke-linecap="round"/>
<text class="ta" x="635.5" y="920.8" font-size="19.5" textLength="100.5" lengthAdjust="spacingAndGlyphs">V<tspan font-size="13.5" dy="5">ds</tspan><tspan dy="-5"> = -0.1 V</tspan></text>
<rect x="589.8" y="646.6" width="295.8" height="295.4" fill="none" stroke="#000" stroke-width="2.4"/>
<path d="M589.8 942 v-5.8M639.1 942 v-5.8M688.4 942 v-5.8M737.7 942 v-5.8M787 942 v-5.8M836.3 942 v-5.8M885.6 942 v-5.8" stroke="#000" stroke-width="1.7" fill="none"/>
<path d="M614.45 942 v-3.7M663.75 942 v-3.7M713.05 942 v-3.7M762.35 942 v-3.7M811.65 942 v-3.7M860.95 942 v-3.7" stroke="#000" stroke-width="1.7" fill="none"/>
<path d="M589.8 697.2 h5.8M589.8 778.55 h5.8M589.8 859.9 h5.8" stroke="#000" stroke-width="1.7" fill="none"/>
<path d="M589.8 672.71 h3.7M589.8 658.39 h3.7M589.8 648.22 h3.7M589.8 754.06 h3.7M589.8 739.74 h3.7M589.8 729.57 h3.7M589.8 721.69 h3.7M589.8 715.25 h3.7M589.8 709.8 h3.7M589.8 705.08 h3.7M589.8 700.92 h3.7M589.8 835.41 h3.7M589.8 821.09 h3.7M589.8 810.92 h3.7M589.8 803.04 h3.7M589.8 796.6 h3.7M589.8 791.15 h3.7M589.8 786.43 h3.7M589.8 782.27 h3.7M589.8 916.76 h3.7M589.8 902.44 h3.7M589.8 892.27 h3.7M589.8 884.39 h3.7M589.8 877.95 h3.7M589.8 872.5 h3.7M589.8 867.78 h3.7M589.8 863.62 h3.7" stroke="#000" stroke-width="1.7" fill="none"/>
<text class="ta" x="589.8" y="968.2" font-size="23.5" text-anchor="middle">-4</text>
<text class="ta" x="639.1" y="968.2" font-size="23.5" text-anchor="middle">-3</text>
<text class="ta" x="688.4" y="968.2" font-size="23.5" text-anchor="middle">-2</text>
<text class="ta" x="737.7" y="968.2" font-size="23.5" text-anchor="middle">-1</text>
<text class="ta" x="787" y="968.2" font-size="23.5" text-anchor="middle">0</text>
<text class="ta" x="836.3" y="968.2" font-size="23.5" text-anchor="middle">1</text>
<text class="ta" x="885.6" y="968.2" font-size="23.5" text-anchor="middle">2</text>
<text class="ta" x="542.5" y="705.6" font-size="24.3" textLength="43.2" lengthAdjust="spacingAndGlyphs">10<tspan font-size="17" dy="-9.3">-3</tspan></text>
<text class="ta" x="542.5" y="786.95" font-size="24.3" textLength="43.2" lengthAdjust="spacingAndGlyphs">10<tspan font-size="17" dy="-9.3">-4</tspan></text>
<text class="ta" x="542.5" y="868.5" font-size="24.3" textLength="43.2" lengthAdjust="spacingAndGlyphs">10<tspan font-size="17" dy="-9.3">-5</tspan></text>
<text class="ta" x="542.5" y="951.65" font-size="24.3" textLength="43.2" lengthAdjust="spacingAndGlyphs">10<tspan font-size="17" dy="-9.3">-6</tspan></text>
<text class="ta" x="698.5" y="993" font-size="24.5" textLength="72" lengthAdjust="spacingAndGlyphs"><tspan font-style="italic">V</tspan><tspan font-size="16.5" dy="5.5">gs</tspan><tspan dy="-5.5"> (V)</tspan></text>
<g transform="translate(529 795.5) rotate(-90)">
<text class="ta" x="0" y="0" font-size="25.5" textLength="113.5" lengthAdjust="spacingAndGlyphs" text-anchor="middle">I<tspan font-size="16.5" dy="5.5">ds</tspan><tspan dy="-5.5"> (A/</tspan><tspan font-weight="normal">μ</tspan>m)</text>
</g>
</g>
<g id="pg">
<g fill="url(#rgk)"><circle cx="129.79" cy="1288.12" r="4"/><circle cx="132.25" cy="1242.55" r="4"/><circle cx="135.05" cy="1232.04" r="4"/><circle cx="137.85" cy="1274.1" r="4"/><circle cx="142.06" cy="1280.41" r="4"/><circle cx="142.76" cy="1262.18" r="4"/><circle cx="145.57" cy="1240.1" r="4"/><circle cx="148.37" cy="1241.85" r="4"/><circle cx="152.58" cy="1261.83" r="4"/><circle cx="157.83" cy="1234.14" r="4"/><circle cx="160.64" cy="1209.25" r="4"/><circle cx="165.9" cy="1254.12" r="4"/><circle cx="168.35" cy="1223.27" r="4"/><circle cx="170.8" cy="1245.36" r="4"/><circle cx="173.61" cy="1232.04" r="4"/><circle cx="179.92" cy="1226.08" r="4"/><circle cx="182.72" cy="1227.83" r="4"/><circle cx="185.87" cy="1247.11" r="4"/><circle cx="191.83" cy="1215.56" r="4"/><circle cx="193.94" cy="1201.54" r="4"/><circle cx="197.44" cy="1185.77" r="4"/><circle cx="199.19" cy="1170" r="4"/><circle cx="204.1" cy="1195.58" r="4"/><circle cx="206.2" cy="1167.19" r="4"/><circle cx="208.66" cy="1169.3" r="4"/><circle cx="211.46" cy="1149.67" r="4"/><circle cx="213.92" cy="1113.92" r="4"/><circle cx="216.72" cy="1119.17" r="4"/><circle cx="219.87" cy="1134.95" r="4"/><circle cx="222.68" cy="1149.67" r="4"/><circle cx="224.43" cy="1130.74" r="4"/><circle cx="230.39" cy="1110.41" r="4"/><circle cx="232.49" cy="1074.31" r="4"/><circle cx="236" cy="1070.8" r="4"/><circle cx="240.2" cy="1098.14" r="4"/><circle cx="244.76" cy="1051.52" r="4"/><circle cx="247.91" cy="1061.34" r="4"/><circle cx="250.72" cy="1114.97" r="4"/><circle cx="255.98" cy="1105.15" r="4"/><circle cx="259.48" cy="1104.1" r="4"/><circle cx="262.99" cy="1102.35" r="4"/><circle cx="273.5" cy="1147.21" r="4"/><circle cx="278.06" cy="1133.19" r="4"/><circle cx="280.51" cy="1151.42" r="4"/><circle cx="285.77" cy="1148.97" r="4"/><circle cx="288.22" cy="1161.23" r="4"/><circle cx="285.77" cy="1185.77" r="4"/><circle cx="292.78" cy="1192.08" r="4"/><circle cx="300.49" cy="1199.79" r="4"/><circle cx="305.05" cy="1201.54" r="4"/><circle cx="309.25" cy="1198.04" r="4"/><circle cx="304.35" cy="1219.77" r="4"/><circle cx="311.36" cy="1231.34" r="4"/><circle cx="319.07" cy="1245.36" r="4"/><circle cx="326.08" cy="1260.08" r="4"/><circle cx="334.14" cy="1255.17" r="4"/><circle cx="337.64" cy="1262.88" r="4"/><circle cx="341.85" cy="1288.47" r="4"/><circle cx="347.11" cy="1290.92" r="4"/><circle cx="362.88" cy="1282.51" r="4"/><circle cx="366.39" cy="1296.18" r="4"/><circle cx="376.9" cy="1296.18" r="4"/><circle cx="382.16" cy="1304.94" r="4"/><circle cx="139.15" cy="1278.78" r="4"/><circle cx="147.55" cy="1239.9" r="4"/><circle cx="159.23" cy="1221.47" r="4"/><circle cx="169.91" cy="1235.59" r="4"/><circle cx="180.42" cy="1224.88" r="4"/><circle cx="193.62" cy="1208.26" r="4"/><circle cx="202.22" cy="1180.6" r="4"/><circle cx="209.94" cy="1160.46" r="4"/><circle cx="217.7" cy="1129.02" r="4"/><circle cx="228.29" cy="1118.51" r="4"/><circle cx="237.06" cy="1084.65" r="4"/><circle cx="262.2" cy="1102.7" r="4"/><circle cx="278.66" cy="1141.96" r="4"/><circle cx="285.96" cy="1172.28" r="4"/><circle cx="302.28" cy="1209.76" r="4"/><circle cx="329.52" cy="1256.44" r="4"/><circle cx="343.86" cy="1289.52" r="4"/><circle cx="371.18" cy="1294.07" r="4"/></g>
<g fill="url(#rgr)"><circle cx="131.55" cy="1299.68" r="4.15"/><circle cx="135.05" cy="1287.42" r="4.15"/><circle cx="150.82" cy="1276.9" r="4.15"/><circle cx="156.08" cy="1273.4" r="4.15"/><circle cx="163.09" cy="1269.89" r="4.15"/><circle cx="166.6" cy="1268.14" r="4.15"/><circle cx="175.36" cy="1259.38" r="4.15"/><circle cx="184.12" cy="1260.08" r="4.15"/><circle cx="186.93" cy="1238.35" r="4.15"/><circle cx="191.83" cy="1227.83" r="4.15"/><circle cx="195.34" cy="1229.58" r="4.15"/><circle cx="199.89" cy="1213.81" r="4.15"/><circle cx="201.65" cy="1217.32" r="4.15"/><circle cx="204.1" cy="1201.54" r="4.15"/><circle cx="207.96" cy="1203.29" r="4.15"/><circle cx="212.16" cy="1182.97" r="4.15"/><circle cx="214.97" cy="1189.27" r="4.15"/><circle cx="219.87" cy="1179.46" r="4.15"/><circle cx="223.38" cy="1161.93" r="4.15"/><circle cx="226.18" cy="1161.23" r="4.15"/><circle cx="225.48" cy="1152.47" r="4.15"/><circle cx="229.69" cy="1146.51" r="4.15"/><circle cx="232.49" cy="1117.42" r="4.15"/><circle cx="236" cy="1119.17" r="4.15"/><circle cx="240.2" cy="1120.93" r="4.15"/><circle cx="243.01" cy="1124.43" r="4.15"/><circle cx="244.76" cy="1109.36" r="4.15"/><circle cx="248.97" cy="1101.65" r="4.15"/><circle cx="251.42" cy="1094.64" r="4.15"/><circle cx="254.22" cy="1092.88" r="4.15"/><circle cx="257.03" cy="1094.64" r="4.15"/><circle cx="259.48" cy="1095.34" r="4.15"/><circle cx="262.99" cy="1093.94" r="4.15"/><circle cx="264.74" cy="1092.88" r="4.15"/><circle cx="267.54" cy="1081.32" r="4.15"/><circle cx="262.99" cy="1120.93" r="4.15"/><circle cx="269.3" cy="1124.43" r="4.15"/><circle cx="272.45" cy="1127.94" r="4.15"/><circle cx="275.25" cy="1120.93" r="4.15"/><circle cx="278.76" cy="1110.41" r="4.15"/><circle cx="281.21" cy="1140.2" r="4.15"/><circle cx="284.72" cy="1148.97" r="4.15"/><circle cx="282.26" cy="1173.5" r="4.15"/><circle cx="289.27" cy="1166.49" r="4.15"/><circle cx="291.03" cy="1200.49" r="4.15"/><circle cx="298.04" cy="1189.27" r="4.15"/><circle cx="295.58" cy="1205.05" r="4.15"/><circle cx="301.54" cy="1206.8" r="4.15"/><circle cx="305.05" cy="1210.3" r="4.15"/><circle cx="293.48" cy="1219.07" r="4.15"/><circle cx="309.25" cy="1229.58" r="4.15"/><circle cx="312.06" cy="1245.36" r="4.15"/><circle cx="315.56" cy="1250.61" r="4.15"/><circle cx="319.07" cy="1243.6" r="4.15"/><circle cx="327.13" cy="1260.08" r="4.15"/><circle cx="331.34" cy="1268.14" r="4.15"/><circle cx="335.54" cy="1269.89" r="4.15"/><circle cx="338.35" cy="1278.65" r="4.15"/><circle cx="341.85" cy="1273.4" r="4.15"/><circle cx="345.36" cy="1282.16" r="4.15"/><circle cx="350.61" cy="1283.91" r="4.15"/><circle cx="354.12" cy="1287.42" r="4.15"/><circle cx="357.62" cy="1290.92" r="4.15"/><circle cx="362.88" cy="1294.43" r="4.15"/><circle cx="371.64" cy="1297.93" r="4.15"/><circle cx="376.9" cy="1297.93" r="4.15"/><circle cx="383.91" cy="1306.69" r="4.15"/><circle cx="134.3" cy="1295.52" r="4.15"/><circle cx="152.48" cy="1273.32" r="4.15"/><circle cx="165.58" cy="1270.05" r="4.15"/><circle cx="180.11" cy="1258.88" r="4.15"/><circle cx="189.61" cy="1233.56" r="4.15"/><circle cx="197.8" cy="1220.19" r="4.15"/><circle cx="202.72" cy="1208.96" r="4.15"/><circle cx="210.55" cy="1195.31" r="4.15"/><circle cx="218.41" cy="1184.56" r="4.15"/><circle cx="224.31" cy="1156.18" r="4.15"/><circle cx="226.91" cy="1151.79" r="4.15"/><circle cx="234.17" cy="1117.5" r="4.15"/><circle cx="241.34" cy="1124.4" r="4.15"/><circle cx="246.92" cy="1105.77" r="4.15"/><circle cx="252.24" cy="1091.67" r="4.15"/><circle cx="257.87" cy="1093.39" r="4.15"/><circle cx="263.01" cy="1109.62" r="4.15"/><circle cx="266.52" cy="1085.7" r="4.15"/><circle cx="271.74" cy="1127.49" r="4.15"/><circle cx="277.52" cy="1117.46" r="4.15"/><circle cx="287.57" cy="1159" r="4.15"/><circle cx="291.93" cy="1211.9" r="4.15"/><circle cx="297.83" cy="1195.67" r="4.15"/><circle cx="303.85" cy="1209.5" r="4.15"/><circle cx="310.57" cy="1237.6" r="4.15"/><circle cx="317.29" cy="1248.98" r="4.15"/><circle cx="329.23" cy="1265.57" r="4.15"/><circle cx="336.62" cy="1275.96" r="4.15"/><circle cx="344.48" cy="1277.61" r="4.15"/><circle cx="352.51" cy="1287.51" r="4.15"/><circle cx="360.74" cy="1292.62" r="4.15"/><circle cx="373.66" cy="1297.16" r="4.15"/></g>
<g fill="url(#rgb)"><circle cx="129.79" cy="1304.94" r="4"/><circle cx="135.05" cy="1297.93" r="4"/><circle cx="140.31" cy="1294.43" r="4"/><circle cx="147.32" cy="1285.66" r="4"/><circle cx="152.58" cy="1283.91" r="4"/><circle cx="156.78" cy="1277.95" r="4"/><circle cx="159.59" cy="1280.41" r="4"/><circle cx="163.09" cy="1276.9" r="4"/><circle cx="168.35" cy="1271.64" r="4"/><circle cx="171.85" cy="1273.4" r="4"/><circle cx="175.36" cy="1266.39" r="4"/><circle cx="178.86" cy="1262.88" r="4"/><circle cx="182.37" cy="1269.89" r="4"/><circle cx="185.17" cy="1261.13" r="4"/><circle cx="187.63" cy="1245.36" r="4"/><circle cx="190.43" cy="1248.86" r="4"/><circle cx="192.88" cy="1255.87" r="4"/><circle cx="195.69" cy="1241.85" r="4"/><circle cx="198.84" cy="1238.35" r="4"/><circle cx="201.65" cy="1234.84" r="4"/><circle cx="205.15" cy="1227.83" r="4"/><circle cx="208.66" cy="1213.81" r="4"/><circle cx="212.16" cy="1212.06" r="4"/><circle cx="215.67" cy="1210.3" r="4"/><circle cx="219.17" cy="1213.11" r="4"/><circle cx="222.68" cy="1202.59" r="4"/><circle cx="226.18" cy="1191.03" r="4"/><circle cx="229.69" cy="1198.04" r="4"/><circle cx="232.49" cy="1191.03" r="4"/><circle cx="234.95" cy="1180.51" r="4"/><circle cx="238.45" cy="1171.05" r="4"/><circle cx="241.96" cy="1167.54" r="4"/><circle cx="243.71" cy="1177.01" r="4"/><circle cx="246.51" cy="1178.76" r="4"/><circle cx="248.97" cy="1180.51" r="4"/><circle cx="251.42" cy="1182.26" r="4"/><circle cx="254.22" cy="1184.02" r="4"/><circle cx="257.03" cy="1187.52" r="4"/><circle cx="259.48" cy="1191.03" r="4"/><circle cx="261.93" cy="1194.53" r="4"/><circle cx="262.99" cy="1199.79" r="4"/><circle cx="265.44" cy="1198.04" r="4"/><circle cx="268.24" cy="1188.57" r="4"/><circle cx="271.75" cy="1180.51" r="4"/><circle cx="274.2" cy="1189.27" r="4"/><circle cx="278.76" cy="1213.11" r="4"/><circle cx="281.21" cy="1219.07" r="4"/><circle cx="284.02" cy="1217.32" r="4"/><circle cx="285.77" cy="1227.13" r="4"/><circle cx="289.27" cy="1238.35" r="4"/><circle cx="292.78" cy="1240.1" r="4"/><circle cx="298.04" cy="1254.12" r="4"/><circle cx="301.54" cy="1252.37" r="4"/><circle cx="305.05" cy="1261.13" r="4"/><circle cx="306.8" cy="1264.63" r="4"/><circle cx="310.3" cy="1262.88" r="4"/><circle cx="319.07" cy="1276.9" r="4"/><circle cx="322.57" cy="1278.65" r="4"/><circle cx="324.33" cy="1273.4" r="4"/><circle cx="327.83" cy="1276.9" r="4"/><circle cx="331.34" cy="1288.12" r="4"/><circle cx="334.84" cy="1290.92" r="4"/><circle cx="341.85" cy="1292.67" r="4"/><circle cx="345.36" cy="1297.93" r="4"/><circle cx="350.61" cy="1297.93" r="4"/><circle cx="355.87" cy="1299.68" r="4"/><circle cx="361.13" cy="1301.44" r="4"/><circle cx="366.39" cy="1299.68" r="4"/><circle cx="371.64" cy="1301.44" r="4"/><circle cx="376.9" cy="1297.23" r="4"/><circle cx="380.41" cy="1304.94" r="4"/><circle cx="131.85" cy="1301.63" r="4"/><circle cx="143.53" cy="1290.5" r="4"/><circle cx="154.96" cy="1279.02" r="4"/><circle cx="160.27" cy="1280.14" r="4"/><circle cx="169.57" cy="1271.35" r="4"/><circle cx="178.2" cy="1264.5" r="4"/><circle cx="184.51" cy="1265.41" r="4"/><circle cx="189.34" cy="1245.57" r="4"/><circle cx="194.58" cy="1250.48" r="4"/><circle cx="200.3" cy="1237.65" r="4"/><circle cx="207.28" cy="1218.9" r="4"/><circle cx="214.48" cy="1211.58" r="4"/><circle cx="220.49" cy="1205.79" r="4"/><circle cx="228.74" cy="1194.41" r="4"/><circle cx="234.2" cy="1187.44" r="4"/><circle cx="240.67" cy="1171.15" r="4"/><circle cx="244.88" cy="1179.21" r="4"/><circle cx="250.07" cy="1183.3" r="4"/><circle cx="256.46" cy="1184" r="4"/><circle cx="259.91" cy="1191.53" r="4"/><circle cx="265.24" cy="1198.63" r="4"/><circle cx="270.28" cy="1183.67" r="4"/><circle cx="276.5" cy="1200.69" r="4"/><circle cx="282.29" cy="1218.57" r="4"/><circle cx="287.71" cy="1234.52" r="4"/><circle cx="295.81" cy="1249" r="4"/><circle cx="304.08" cy="1258.91" r="4"/><circle cx="308.93" cy="1262.28" r="4"/><circle cx="321.61" cy="1279.82" r="4"/><circle cx="326.97" cy="1275.45" r="4"/><circle cx="333.56" cy="1288.25" r="4"/><circle cx="344.33" cy="1295.63" r="4"/><circle cx="352.77" cy="1296.89" r="4"/><circle cx="364.54" cy="1302.72" r="4"/><circle cx="373.37" cy="1300.66" r="4"/></g>
<g fill="url(#rgg)"><circle cx="129.79" cy="1306.69" r="4"/><circle cx="135.05" cy="1304.94" r="4"/><circle cx="140.31" cy="1301.44" r="4"/><circle cx="143.81" cy="1299.68" r="4"/><circle cx="147.32" cy="1297.23" r="4"/><circle cx="150.82" cy="1296.18" r="4"/><circle cx="154.33" cy="1297.93" r="4"/><circle cx="157.83" cy="1294.43" r="4"/><circle cx="161.34" cy="1297.23" r="4"/><circle cx="164.84" cy="1292.67" r="4"/><circle cx="168.35" cy="1296.18" r="4"/><circle cx="171.85" cy="1292.67" r="4"/><circle cx="175.36" cy="1289.17" r="4"/><circle cx="178.86" cy="1280.41" r="4"/><circle cx="182.37" cy="1282.16" r="4"/><circle cx="185.87" cy="1278.65" r="4"/><circle cx="189.38" cy="1280.41" r="4"/><circle cx="192.88" cy="1276.9" r="4"/><circle cx="196.39" cy="1278.65" r="4"/><circle cx="199.89" cy="1269.89" r="4"/><circle cx="203.4" cy="1257.62" r="4"/><circle cx="206.91" cy="1255.87" r="4"/><circle cx="210.41" cy="1252.37" r="4"/><circle cx="212.86" cy="1257.62" r="4"/><circle cx="215.67" cy="1259.38" r="4"/><circle cx="219.17" cy="1248.86" r="4"/><circle cx="222.68" cy="1240.1" r="4"/><circle cx="225.48" cy="1243.6" r="4"/><circle cx="228.99" cy="1233.09" r="4"/><circle cx="231.44" cy="1236.59" r="4"/><circle cx="234.95" cy="1229.58" r="4"/><circle cx="238.45" cy="1227.83" r="4"/><circle cx="241.96" cy="1234.84" r="4"/><circle cx="245.46" cy="1215.56" r="4"/><circle cx="247.21" cy="1219.07" r="4"/><circle cx="250.02" cy="1233.09" r="4"/><circle cx="253.52" cy="1231.34" r="4"/><circle cx="257.03" cy="1233.09" r="4"/><circle cx="259.48" cy="1241.85" r="4"/><circle cx="262.99" cy="1229.58" r="4"/><circle cx="265.44" cy="1241.85" r="4"/><circle cx="268.24" cy="1236.59" r="4"/><circle cx="271.05" cy="1231.34" r="4"/><circle cx="273.5" cy="1243.6" r="4"/><circle cx="276.31" cy="1241.85" r="4"/><circle cx="278.76" cy="1247.11" r="4"/><circle cx="281.56" cy="1250.61" r="4"/><circle cx="284.02" cy="1254.12" r="4"/><circle cx="285.77" cy="1261.13" r="4"/><circle cx="289.27" cy="1262.88" r="4"/><circle cx="292.08" cy="1259.38" r="4"/><circle cx="294.53" cy="1266.39" r="4"/><circle cx="298.04" cy="1280.41" r="4"/><circle cx="301.54" cy="1283.91" r="4"/><circle cx="305.05" cy="1285.66" r="4"/><circle cx="308.55" cy="1283.91" r="4"/><circle cx="312.06" cy="1289.17" r="4"/><circle cx="315.56" cy="1290.92" r="4"/><circle cx="319.07" cy="1299.68" r="4"/><circle cx="322.57" cy="1294.43" r="4"/><circle cx="326.08" cy="1297.93" r="4"/><circle cx="329.58" cy="1299.68" r="4"/><circle cx="333.09" cy="1301.44" r="4"/><circle cx="338.35" cy="1303.19" r="4"/><circle cx="345.36" cy="1304.94" r="4"/><circle cx="352.37" cy="1305.64" r="4"/><circle cx="359.38" cy="1306.69" r="4"/><circle cx="366.39" cy="1307.05" r="4"/><circle cx="373.4" cy="1307.75" r="4"/><circle cx="380.41" cy="1308.45" r="4"/><circle cx="131.84" cy="1304.07" r="4"/><circle cx="141.83" cy="1299.04" r="4"/><circle cx="148.12" cy="1296.27" r="4"/><circle cx="157" cy="1297.5" r="4"/><circle cx="163.67" cy="1293.73" r="4"/><circle cx="170.18" cy="1293.44" r="4"/><circle cx="176.39" cy="1283.06" r="4"/><circle cx="183.49" cy="1282.29" r="4"/><circle cx="191.86" cy="1280" r="4"/><circle cx="198.8" cy="1272.92" r="4"/><circle cx="204.73" cy="1257.31" r="4"/><circle cx="212.15" cy="1256.56" r="4"/><circle cx="218.26" cy="1252.3" r="4"/><circle cx="224.31" cy="1242.61" r="4"/><circle cx="230.23" cy="1233.42" r="4"/><circle cx="236.64" cy="1226.9" r="4"/><circle cx="244.66" cy="1226.81" r="4"/><circle cx="248.72" cy="1225.2" r="4"/><circle cx="256.17" cy="1232.53" r="4"/><circle cx="262.07" cy="1237.25" r="4"/><circle cx="266.86" cy="1238.84" r="4"/><circle cx="272.49" cy="1237.17" r="4"/><circle cx="276.79" cy="1243.62" r="4"/><circle cx="283.48" cy="1250.36" r="4"/><circle cx="286.52" cy="1262.56" r="4"/><circle cx="292.82" cy="1263.03" r="4"/><circle cx="299.73" cy="1281.47" r="4"/><circle cx="307.89" cy="1283.45" r="4"/><circle cx="313.62" cy="1288.74" r="4"/><circle cx="321.11" cy="1296.07" r="4"/><circle cx="327.51" cy="1299.89" r="4"/><circle cx="335.32" cy="1302.57" r="4"/><circle cx="349.75" cy="1303.54" r="4"/><circle cx="361.92" cy="1305.68" r="4"/><circle cx="377.48" cy="1308.6" r="4"/></g>
<g fill="url(#rgp)"><circle cx="126.71" cy="1311.4" r="2.7"/><circle cx="129.01" cy="1310.22" r="2.7"/><circle cx="131.3" cy="1310.37" r="2.7"/><circle cx="133.6" cy="1309.53" r="2.7"/><circle cx="135.89" cy="1309.23" r="2.7"/><circle cx="138.18" cy="1310.42" r="2.7"/><circle cx="140.48" cy="1310.31" r="2.7"/><circle cx="142.77" cy="1307.95" r="2.7"/><circle cx="145.07" cy="1309.19" r="2.7"/><circle cx="147.36" cy="1309.01" r="2.7"/><circle cx="149.66" cy="1306.81" r="2.7"/><circle cx="151.95" cy="1307.91" r="2.7"/><circle cx="154.24" cy="1306.64" r="2.7"/><circle cx="156.54" cy="1307.17" r="2.7"/><circle cx="158.83" cy="1306.37" r="2.7"/><circle cx="161.13" cy="1307.24" r="2.7"/><circle cx="163.42" cy="1305.61" r="2.7"/><circle cx="165.72" cy="1304.63" r="2.7"/><circle cx="168.01" cy="1305.13" r="2.7"/><circle cx="170.3" cy="1304.17" r="2.7"/><circle cx="172.6" cy="1303.89" r="2.7"/><circle cx="174.89" cy="1304.98" r="2.7"/><circle cx="177.19" cy="1302.74" r="2.7"/><circle cx="179.48" cy="1302.71" r="2.7"/><circle cx="181.77" cy="1302.99" r="2.7"/><circle cx="184.07" cy="1303.22" r="2.7"/><circle cx="186.36" cy="1300.62" r="2.7"/><circle cx="188.66" cy="1301.12" r="2.7"/><circle cx="190.95" cy="1299.95" r="2.7"/><circle cx="193.25" cy="1299" r="2.7"/><circle cx="195.54" cy="1298.88" r="2.7"/><circle cx="197.83" cy="1297.81" r="2.7"/><circle cx="200.13" cy="1298.62" r="2.7"/><circle cx="202.42" cy="1297.04" r="2.7"/><circle cx="204.72" cy="1297.42" r="2.7"/><circle cx="207.01" cy="1295.58" r="2.7"/><circle cx="209.31" cy="1295.14" r="2.7"/><circle cx="211.6" cy="1296.56" r="2.7"/><circle cx="213.89" cy="1295.87" r="2.7"/><circle cx="216.19" cy="1295.08" r="2.7"/><circle cx="218.48" cy="1292.58" r="2.7"/><circle cx="220.78" cy="1293.35" r="2.7"/><circle cx="223.07" cy="1292.2" r="2.7"/><circle cx="225.37" cy="1292.14" r="2.7"/><circle cx="227.66" cy="1290.71" r="2.7"/><circle cx="229.95" cy="1290.12" r="2.7"/><circle cx="232.25" cy="1289.32" r="2.7"/><circle cx="234.54" cy="1287.82" r="2.7"/><circle cx="236.84" cy="1286.92" r="2.7"/><circle cx="239.13" cy="1285.2" r="2.7"/><circle cx="241.43" cy="1285.01" r="2.7"/><circle cx="243.72" cy="1283.8" r="2.7"/><circle cx="246.01" cy="1283.4" r="2.7"/><circle cx="248.31" cy="1282.47" r="2.7"/><circle cx="250.6" cy="1282.71" r="2.7"/><circle cx="252.9" cy="1283.43" r="2.7"/><circle cx="255.19" cy="1281.49" r="2.7"/><circle cx="257.49" cy="1281.59" r="2.7"/><circle cx="259.78" cy="1282.12" r="2.7"/><circle cx="262.07" cy="1283.36" r="2.7"/><circle cx="264.37" cy="1283.36" r="2.7"/><circle cx="266.66" cy="1285.02" r="2.7"/><circle cx="268.96" cy="1284.26" r="2.7"/><circle cx="271.25" cy="1287.34" r="2.7"/><circle cx="273.54" cy="1290.5" r="2.7"/><circle cx="275.84" cy="1292.53" r="2.7"/><circle cx="278.13" cy="1290.06" r="2.7"/><circle cx="280.43" cy="1289.26" r="2.7"/><circle cx="282.72" cy="1291.65" r="2.7"/><circle cx="285.02" cy="1291.77" r="2.7"/><circle cx="287.31" cy="1294.72" r="2.7"/><circle cx="289.6" cy="1297.25" r="2.7"/><circle cx="291.9" cy="1298.05" r="2.7"/><circle cx="294.19" cy="1297.99" r="2.7"/><circle cx="296.49" cy="1298.89" r="2.7"/><circle cx="298.78" cy="1302.18" r="2.7"/><circle cx="301.08" cy="1301.88" r="2.7"/><circle cx="303.37" cy="1304.44" r="2.7"/><circle cx="305.66" cy="1303.28" r="2.7"/><circle cx="307.96" cy="1304.83" r="2.7"/><circle cx="310.25" cy="1303.98" r="2.7"/><circle cx="312.55" cy="1304.29" r="2.7"/><circle cx="314.84" cy="1306.07" r="2.7"/><circle cx="317.14" cy="1305.37" r="2.7"/><circle cx="319.43" cy="1307.4" r="2.7"/><circle cx="321.72" cy="1308.22" r="2.7"/><circle cx="324.02" cy="1307.11" r="2.7"/><circle cx="326.31" cy="1308.8" r="2.7"/><circle cx="328.61" cy="1308.6" r="2.7"/><circle cx="330.9" cy="1308.29" r="2.7"/><circle cx="333.2" cy="1308" r="2.7"/><circle cx="335.49" cy="1309.39" r="2.7"/><circle cx="337.78" cy="1309.91" r="2.7"/><circle cx="340.08" cy="1308.03" r="2.7"/><circle cx="342.37" cy="1309.68" r="2.7"/><circle cx="344.67" cy="1308.25" r="2.7"/><circle cx="346.96" cy="1308.57" r="2.7"/><circle cx="349.26" cy="1310.02" r="2.7"/><circle cx="351.55" cy="1309.93" r="2.7"/><circle cx="353.84" cy="1309.9" r="2.7"/><circle cx="356.14" cy="1309.7" r="2.7"/><circle cx="358.43" cy="1309.95" r="2.7"/><circle cx="360.73" cy="1310.16" r="2.7"/><circle cx="363.02" cy="1310.13" r="2.7"/><circle cx="365.31" cy="1309.43" r="2.7"/><circle cx="367.61" cy="1310.66" r="2.7"/><circle cx="369.9" cy="1310.98" r="2.7"/><circle cx="372.2" cy="1310.36" r="2.7"/><circle cx="374.49" cy="1311.72" r="2.7"/><circle cx="376.79" cy="1311.68" r="2.7"/><circle cx="379.08" cy="1310.06" r="2.7"/><circle cx="381.37" cy="1311.31" r="2.7"/></g>
<circle cx="289.8" cy="1022.2" r="3.6" fill="url(#rgk)"/>
<text class="ta" x="306" y="1028" font-size="20" textLength="101.6" lengthAdjust="spacingAndGlyphs">V<tspan font-size="13.5" dy="5.2">ds</tspan><tspan dy="-5.2">= -1.0 V</tspan></text>
<circle cx="289.8" cy="1049.7" r="4.1" fill="url(#rgr)"/>
<text class="ta" x="306" y="1055.5" font-size="20" textLength="101.6" lengthAdjust="spacingAndGlyphs">V<tspan font-size="13.5" dy="5.2">ds</tspan><tspan dy="-5.2">= -0.8 V</tspan></text>
<circle cx="289.8" cy="1077.2" r="4" fill="url(#rgb)"/>
<text class="ta" x="306" y="1083" font-size="20" textLength="101.6" lengthAdjust="spacingAndGlyphs">V<tspan font-size="13.5" dy="5.2">ds</tspan><tspan dy="-5.2">= -0.5 V</tspan></text>
<circle cx="289.8" cy="1104.7" r="4.1" fill="url(#rgg)"/>
<text class="ta" x="306" y="1110.5" font-size="20" textLength="101.6" lengthAdjust="spacingAndGlyphs">V<tspan font-size="13.5" dy="5.2">ds</tspan><tspan dy="-5.2">= -0.3 V</tspan></text>
<circle cx="289.8" cy="1132.2" r="3.2" fill="url(#rgp)"/>
<text class="ta" x="306" y="1138" font-size="20" textLength="101.6" lengthAdjust="spacingAndGlyphs">V<tspan font-size="13.5" dy="5.2">ds</tspan><tspan dy="-5.2">= -0.1 V</tspan></text>
<rect x="105.3" y="1008" width="305.9" height="304.3" fill="none" stroke="#000" stroke-width="2.4"/>
<path d="M105.3 1312.3 v-4.6M156.28 1312.3 v-4.6M207.27 1312.3 v-4.6M258.25 1312.3 v-4.6M309.23 1312.3 v-4.6M360.22 1312.3 v-4.6M411.2 1312.3 v-4.6" stroke="#000" stroke-width="1.7" fill="none"/>
<path d="M130.79 1312.3 v-2.7M181.77 1312.3 v-2.7M232.76 1312.3 v-2.7M283.74 1312.3 v-2.7M334.72 1312.3 v-2.7M385.71 1312.3 v-2.7" stroke="#000" stroke-width="1.7" fill="none"/>
<path d="M105.3 1312.3 h4.6M105.3 1265.7 h4.6M105.3 1219.1 h4.6M105.3 1172.5 h4.6M105.3 1125.9 h4.6M105.3 1079.3 h4.6M105.3 1032.7 h4.6" stroke="#000" stroke-width="1.7" fill="none"/>
<path d="M105.3 1289 h2.7M105.3 1242.4 h2.7M105.3 1195.8 h2.7M105.3 1149.2 h2.7M105.3 1102.6 h2.7M105.3 1056 h2.7" stroke="#000" stroke-width="1.7" fill="none"/>
<text class="ta" x="105.3" y="1335.2" font-size="24" text-anchor="middle">-4</text>
<text class="ta" x="156.28" y="1335.2" font-size="24" text-anchor="middle">-3</text>
<text class="ta" x="207.27" y="1335.2" font-size="24" text-anchor="middle">-2</text>
<text class="ta" x="258.25" y="1335.2" font-size="24" text-anchor="middle">-1</text>
<text class="ta" x="309.73" y="1335.2" font-size="24" text-anchor="middle">0</text>
<text class="ta" x="360.72" y="1335.2" font-size="24" text-anchor="middle">1</text>
<text class="ta" x="411.7" y="1335.2" font-size="24" text-anchor="middle">2</text>
<text class="ta" x="98" y="1319.3" font-size="23.8" text-anchor="end">0.0</text>
<text class="ta" x="98" y="1272.7" font-size="23.8" text-anchor="end">0.2</text>
<text class="ta" x="98" y="1226.1" font-size="23.8" text-anchor="end">0.4</text>
<text class="ta" x="98" y="1179.5" font-size="23.8" text-anchor="end">0.6</text>
<text class="ta" x="98" y="1132.9" font-size="23.8" text-anchor="end">0.8</text>
<text class="ta" x="98" y="1086.3" font-size="23.8" text-anchor="end">1.0</text>
<text class="ta" x="98" y="1039.7" font-size="23.8" text-anchor="end">1.2</text>
<text class="ta" x="205.5" y="1362" font-size="25" textLength="80.5" lengthAdjust="spacingAndGlyphs">V<tspan font-size="17" dy="5.5">gs</tspan><tspan dy="-5.5"> (V)</tspan></text>
<g transform="translate(48.6 1160.7) rotate(-90)">
<text class="ta" x="0" y="0" font-size="26" textLength="139.5" lengthAdjust="spacingAndGlyphs" text-anchor="middle">g<tspan font-size="16" dy="5">m</tspan><tspan dy="-5"> (mS/</tspan><tspan font-weight="normal">μ</tspan>m)</text>
</g>
</g>
<g id="ph">
<path d="M883.6 1309.3 v-7.2M834.6 1309.3 v-7.2M785.6 1309.3 v-7.2M736.6 1309.3 v-7.2M687.6 1309.3 v-7.2M638.6 1309.3 v-7.2M589.6 1309.3 v-7.2" stroke="#000" stroke-width="1.7" fill="none"/>
<path d="M859.1 1309.3 v-3.8M810.1 1309.3 v-3.8M761.1 1309.3 v-3.8M712.1 1309.3 v-3.8M663.1 1309.3 v-3.8M614.1 1309.3 v-3.8" stroke="#000" stroke-width="1.7" fill="none"/>
<g clip-path="url(#ch)" fill="none" stroke="#5f5e99" stroke-width="2.9" stroke-linejoin="round">
<path d="M883.6 1309.28 L878.7 1304.06 L873.8 1298.81 L868.9 1293.5 L864 1288.13 L859.1 1282.73 L854.2 1277.33 L849.3 1271.98 L844.4 1266.68 L839.5 1261.44 L834.6 1256.22 L829.7 1250.98 L824.8 1245.7 L819.9 1240.35 L815 1234.96 L810.1 1229.56 L805.2 1224.18 L800.3 1218.86 L795.4 1213.6 L790.5 1208.37 L785.6 1203.15 L780.7 1197.88 L775.8 1192.57 L770.9 1187.19 L766 1181.79 L761.1 1176.4 L756.2 1171.05 L751.3 1165.76 L746.4 1160.52 L741.5 1155.3 L736.6 1150.06 L731.7 1144.77 L726.8 1139.42 L721.9 1134.02 L717 1128.45 L712.1 1122.94 L707.2 1117.63 L702.3 1112.5 L697.4 1107.5 L692.5 1102.67 L687.6 1097.95 L682.7 1093.26 L677.8 1088.64 L672.9 1084.18 L668 1080 L663.1 1076.23 L658.2 1072.89 L653.3 1069.95 L648.4 1067.28 L643.5 1064.76 L638.6 1062.3 L633.7 1059.89 L628.8 1057.58 L623.9 1055.51 L619 1053.8 L614.1 1052.51 L609.2 1051.65 L604.3 1051.18 L599.4 1051.01 L594.5 1051.01 L589.6 1051.13"/>
<path d="M883.6 1309.21 L878.7 1304.47 L873.8 1299.73 L868.9 1294.96 L864 1290.13 L859.1 1285.24 L854.2 1280.33 L849.3 1275.43 L844.4 1270.57 L839.5 1265.77 L834.6 1261.01 L829.7 1256.27 L824.8 1251.52 L819.9 1246.72 L815 1241.85 L810.1 1236.95 L805.2 1232.04 L800.3 1227.16 L795.4 1222.33 L790.5 1217.56 L785.6 1212.82 L780.7 1208.07 L775.8 1203.29 L770.9 1198.46 L766 1193.57 L761.1 1188.65 L756.2 1183.76 L751.3 1178.9 L746.4 1174.11 L741.5 1169.36 L736.6 1164.62 L731.7 1159.86 L726.8 1155.05 L721.9 1150.18 L717 1145.28 L712.1 1140.18 L707.2 1135.19 L702.3 1130.38 L697.4 1125.75 L692.5 1121.21 L687.6 1116.65 L682.7 1111.94 L677.8 1107.05 L672.9 1101.99 L668 1096.91 L663.1 1092.17 L658.2 1087.88 L653.3 1084.07 L648.4 1080.69 L643.5 1077.62 L638.6 1074.75 L633.7 1071.99 L628.8 1069.34 L623.9 1066.87 L619 1064.7 L614.1 1062.96 L609.2 1061.69 L604.3 1060.95 L599.4 1060.66 L594.5 1060.69 L589.6 1060.95"/>
<path d="M883.6 1309.18 L878.7 1304.77 L873.8 1300.39 L868.9 1296.01 L864 1291.58 L859.1 1287.1 L854.2 1282.58 L849.3 1278.03 L844.4 1273.5 L839.5 1269.02 L834.6 1264.59 L829.7 1260.2 L824.8 1255.83 L819.9 1251.42 L815 1246.97 L810.1 1242.46 L805.2 1237.92 L800.3 1233.37 L795.4 1228.87 L790.5 1224.42 L785.6 1220.02 L780.7 1215.64 L775.8 1211.25 L770.9 1206.82 L766 1202.33 L761.1 1197.8 L756.2 1193.25 L751.3 1188.73 L746.4 1184.25 L741.5 1179.83 L736.6 1175.45 L731.7 1171.07 L726.8 1166.66 L721.9 1162.2 L717 1157.84 L712.1 1153.1 L707.2 1148.38 L702.3 1143.8 L697.4 1139.4 L692.5 1135.16 L687.6 1130.98 L682.7 1126.75 L677.8 1122.36 L672.9 1117.78 L668 1113.07 L663.1 1108.33 L658.2 1103.68 L653.3 1099.2 L648.4 1094.9 L643.5 1090.86 L638.6 1087.18 L633.7 1083.76 L628.8 1080.54 L623.9 1077.52 L619 1074.8 L614.1 1072.5 L609.2 1070.71 L604.3 1069.55 L599.4 1068.99 L594.5 1068.93 L589.6 1069.25"/>
<path d="M883.6 1309.2 L878.7 1305.14 L873.8 1301.13 L868.9 1297.16 L864 1293.2 L859.1 1289.22 L854.2 1285.2 L849.3 1281.12 L844.4 1277.01 L839.5 1272.9 L834.6 1268.82 L829.7 1264.78 L824.8 1260.8 L819.9 1256.84 L815 1252.87 L810.1 1248.87 L805.2 1244.81 L800.3 1240.71 L795.4 1236.6 L790.5 1232.5 L785.6 1228.45 L780.7 1224.44 L775.8 1220.48 L770.9 1216.52 L766 1212.53 L761.1 1208.5 L756.2 1204.41 L751.3 1200.3 L746.4 1196.19 L741.5 1192.12 L736.6 1188.09 L731.7 1184.11 L726.8 1180.15 L721.9 1176.18 L717 1172.45 L712.1 1168.33 L707.2 1164.07 L702.3 1159.77 L697.4 1155.54 L692.5 1151.47 L687.6 1147.57 L682.7 1143.78 L677.8 1140 L672.9 1136.11 L668 1132.06 L663.1 1127.84 L658.2 1123.55 L653.3 1119.28 L648.4 1115.13 L643.5 1111.16 L638.6 1107.34 L633.7 1103.57 L628.8 1099.91 L623.9 1096.56 L619 1093.5 L614.1 1090.76 L609.2 1088.46 L604.3 1086.7 L599.4 1085.56 L594.5 1085.04 L589.6 1085.06"/>
<path d="M883.6 1309.36 L878.7 1305.83 L873.8 1302.29 L868.9 1298.78 L864 1295.32 L859.1 1291.89 L854.2 1288.49 L849.3 1285.08 L844.4 1281.63 L839.5 1278.14 L834.6 1274.61 L829.7 1271.07 L824.8 1267.54 L819.9 1264.06 L815 1260.62 L810.1 1257.21 L805.2 1253.81 L800.3 1250.38 L795.4 1246.9 L790.5 1243.39 L785.6 1239.85 L780.7 1236.31 L775.8 1232.81 L770.9 1229.35 L766 1225.94 L761.1 1222.53 L756.2 1219.12 L751.3 1215.66 L746.4 1212.16 L741.5 1208.63 L736.6 1205.09 L731.7 1201.57 L726.8 1198.09 L721.9 1194.66 L717 1191.26 L712.1 1188.01 L707.2 1184.66 L702.3 1181.16 L697.4 1177.52 L692.5 1173.81 L687.6 1170.14 L682.7 1166.59 L677.8 1163.19 L672.9 1159.91 L668 1156.68 L663.1 1153.38 L658.2 1149.94 L653.3 1146.35 L648.4 1142.67 L643.5 1138.97 L638.6 1135.36 L633.7 1131.9 L628.8 1128.57 L623.9 1125.33 L619 1122.07 L614.1 1118.85 L609.2 1116.06 L604.3 1113.76 L599.4 1112 L594.5 1110.91 L589.6 1110.54"/>
<path d="M883.6 1309.34 L878.7 1306.54 L873.8 1303.71 L868.9 1300.84 L864 1297.95 L859.1 1295.05 L854.2 1292.18 L849.3 1289.34 L844.4 1286.54 L839.5 1283.76 L834.6 1280.97 L829.7 1278.16 L824.8 1275.3 L819.9 1272.42 L815 1269.52 L810.1 1266.64 L805.2 1263.78 L800.3 1260.97 L795.4 1258.18 L790.5 1255.4 L785.6 1252.6 L780.7 1249.76 L775.8 1246.89 L770.9 1244 L766 1241.1 L761.1 1238.23 L756.2 1235.4 L751.3 1232.61 L746.4 1229.82 L741.5 1227.03 L736.6 1224.21 L731.7 1221.36 L726.8 1218.47 L721.9 1215.57 L717 1212.51 L712.1 1209.64 L707.2 1206.9 L702.3 1204.24 L697.4 1201.58 L692.5 1198.85 L687.6 1196.01 L682.7 1193.04 L677.8 1190.01 L672.9 1187 L668 1184.08 L663.1 1181.29 L658.2 1178.6 L653.3 1175.96 L648.4 1173.27 L643.5 1170.47 L638.6 1167.55 L633.7 1164.54 L628.8 1161.51 L623.9 1158.55 L619 1155.7 L614.1 1152.97 L609.2 1150.44 L604.3 1148.46 L599.4 1147.02 L594.5 1146.07 L589.6 1145.62"/>
<path d="M883.6 1309.24 L878.7 1307.79 L873.8 1306.19 L868.9 1304.53 L864 1302.81 L859.1 1301.03 L854.2 1299.19 L849.3 1297.29 L844.4 1295.37 L839.5 1293.42 L834.6 1291.48 L829.7 1289.56 L824.8 1287.64 L819.9 1285.71 L815 1283.75 L810.1 1281.75 L805.2 1279.72 L800.3 1277.65 L795.4 1275.58 L790.5 1273.51 L785.6 1271.46 L780.7 1269.43 L775.8 1267.4 L770.9 1265.35 L766 1263.28 L761.1 1261.17 L756.2 1259.03 L751.3 1256.87 L746.4 1254.72 L741.5 1252.59 L736.6 1250.48 L731.7 1248.38 L726.8 1246.28 L721.9 1244.15 L717 1242.14 L712.1 1239.89 L707.2 1237.58 L702.3 1235.27 L697.4 1233.03 L692.5 1230.87 L687.6 1228.79 L682.7 1226.75 L677.8 1224.67 L672.9 1222.5 L668 1220.24 L663.1 1217.9 L658.2 1215.54 L653.3 1213.21 L648.4 1210.98 L643.5 1208.83 L638.6 1206.73 L633.7 1204.63 L628.8 1202.47 L623.9 1200.21 L619 1197.85 L614.1 1195.46 L609.2 1193.07 L604.3 1190.76 L599.4 1188.54 L594.5 1186.39 L589.6 1184.27"/>
<path d="M883.6 1309.33 L878.7 1309.14 L873.8 1308.8 L868.9 1308.36 L864 1307.86 L859.1 1307.31 L854.2 1306.7 L849.3 1306.02 L844.4 1305.27 L839.5 1304.45 L834.6 1303.55 L829.7 1302.6 L824.8 1301.61 L819.9 1300.6 L815 1299.56 L810.1 1298.49 L805.2 1297.39 L800.3 1296.23 L795.4 1295.02 L790.5 1293.75 L785.6 1292.43 L780.7 1291.07 L775.8 1289.69 L770.9 1288.3 L766 1286.9 L761.1 1285.47 L756.2 1284 L751.3 1282.49 L746.4 1280.92 L741.5 1279.3 L736.6 1277.65 L731.7 1275.98 L726.8 1274.29 L721.9 1272.6 L717 1270.89 L712.1 1269.23 L707.2 1267.5 L702.3 1265.67 L697.4 1263.76 L692.5 1261.77 L687.6 1259.78 L682.7 1257.8 L677.8 1255.88 L672.9 1253.98 L668 1252.09 L663.1 1250.14 L658.2 1248.11 L653.3 1245.99 L648.4 1243.79 L643.5 1241.55 L638.6 1239.33 L633.7 1237.15 L628.8 1235.01 L623.9 1232.89 L619 1230.75 L614.1 1228.53 L609.2 1226.22 L604.3 1223.83 L599.4 1221.38 L594.5 1218.93 L589.6 1216.52"/>
<path d="M883.6 1309.32 L878.7 1309.33 L873.8 1309.3 L868.9 1309.25 L864 1309.16 L859.1 1309.06 L854.2 1308.94 L849.3 1308.81 L844.4 1308.66 L839.5 1308.49 L834.6 1308.28 L829.7 1308.02 L824.8 1307.72 L819.9 1307.37 L815 1307 L810.1 1306.59 L805.2 1306.16 L800.3 1305.72 L795.4 1305.24 L790.5 1304.72 L785.6 1304.15 L780.7 1303.53 L775.8 1302.85 L770.9 1302.14 L766 1301.38 L761.1 1300.6 L756.2 1299.79 L751.3 1298.96 L746.4 1298.08 L741.5 1297.14 L736.6 1296.16 L731.7 1295.11 L726.8 1294.01 L721.9 1292.87 L717 1291.61 L712.1 1290.42 L707.2 1289.22 L702.3 1287.99 L697.4 1286.7 L692.5 1285.32 L687.6 1283.85 L682.7 1282.29 L677.8 1280.68 L672.9 1279.03 L668 1277.39 L663.1 1275.75 L658.2 1274.08 L653.3 1272.37 L648.4 1270.57 L643.5 1268.68 L638.6 1266.69 L633.7 1264.62 L628.8 1262.52 L623.9 1260.4 L619 1258.28 L614.1 1256.15 L609.2 1253.98 L604.3 1251.73 L599.4 1249.39 L594.5 1246.95 L589.6 1244.42"/>
<path d="M883.6 1309.28 L878.7 1309.29 L873.8 1309.29 L868.9 1309.27 L864 1309.23 L859.1 1309.17 L854.2 1309.08 L849.3 1308.98 L844.4 1308.87 L839.5 1308.74 L834.6 1308.61 L829.7 1308.46 L824.8 1308.3 L819.9 1308.11 L815 1307.89 L810.1 1307.65 L805.2 1307.39 L800.3 1307.11 L795.4 1306.81 L790.5 1306.5 L785.6 1306.18 L780.7 1305.84 L775.8 1305.47 L770.9 1305.08 L766 1304.66 L761.1 1304.21 L756.2 1303.74 L751.3 1303.25 L746.4 1302.75 L741.5 1302.23 L736.6 1301.7 L731.7 1301.14 L726.8 1300.55 L721.9 1299.94 L717 1299.3 L712.1 1298.6 L707.2 1297.89 L702.3 1297.17 L697.4 1296.46 L692.5 1295.74 L687.6 1295.01 L682.7 1294.23 L677.8 1293.41 L672.9 1292.54 L668 1291.63 L663.1 1290.7 L658.2 1289.76 L653.3 1288.82 L648.4 1287.88 L643.5 1286.93 L638.6 1285.95 L633.7 1284.92 L628.8 1283.84 L623.9 1282.71 L619 1281.56 L614.1 1278.31 L609.2 1273.01 L604.3 1268.82 L599.4 1267.42 L594.5 1266.22 L589.6 1264.97"/>
<path d="M883.6 1309.29 L878.7 1309.29 L873.8 1309.3 L868.9 1309.31 L864 1309.31 L859.1 1309.31 L854.2 1309.3 L849.3 1309.29 L844.4 1309.27 L839.5 1309.26 L834.6 1309.24 L829.7 1309.23 L824.8 1309.22 L819.9 1309.2 L815 1309.17 L810.1 1309.13 L805.2 1309.07 L800.3 1309.01 L795.4 1308.93 L790.5 1308.86 L785.6 1308.77 L780.7 1308.68 L775.8 1308.58 L770.9 1308.46 L766 1308.32 L761.1 1308.15 L756.2 1307.97 L751.3 1307.76 L746.4 1307.55 L741.5 1307.31 L736.6 1307.07 L731.7 1306.8 L726.8 1306.5 L721.9 1306.17 L717 1305.84 L712.1 1305.43 L707.2 1304.98 L702.3 1304.51 L697.4 1304.03 L692.5 1303.54 L687.6 1303.02 L682.7 1302.47 L677.8 1301.86 L672.9 1301.2 L668 1300.47 L663.1 1299.7 L658.2 1298.88 L653.3 1298.03 L648.4 1297.16 L643.5 1296.25 L638.6 1295.3 L633.7 1294.29 L628.8 1293.2 L623.9 1292.04 L619 1290.81 L614.1 1289.51 L609.2 1288.17 L604.3 1286.78 L599.4 1285.35 L594.5 1283.86 L589.6 1282.31"/>
<path d="M883.6 1309.29 L878.7 1309.29 L873.8 1309.29 L868.9 1309.3 L864 1309.3 L859.1 1309.31 L854.2 1309.31 L849.3 1309.3 L844.4 1309.29 L839.5 1309.28 L834.6 1309.27 L829.7 1309.26 L824.8 1309.26 L819.9 1309.25 L815 1309.24 L810.1 1309.22 L805.2 1309.2 L800.3 1309.16 L795.4 1309.12 L790.5 1309.08 L785.6 1309.03 L780.7 1308.98 L775.8 1308.92 L770.9 1308.86 L766 1308.79 L761.1 1308.7 L756.2 1308.6 L751.3 1308.48 L746.4 1308.35 L741.5 1308.22 L736.6 1308.07 L731.7 1307.91 L726.8 1307.74 L721.9 1307.55 L717 1307.37 L712.1 1307.13 L707.2 1306.86 L702.3 1306.57 L697.4 1306.27 L692.5 1305.96 L687.6 1305.64 L682.7 1305.3 L677.8 1304.93 L672.9 1304.53 L668 1304.09 L663.1 1303.61 L658.2 1303.09 L653.3 1302.55 L648.4 1301.98 L643.5 1301.4 L638.6 1300.79 L633.7 1300.14 L628.8 1299.45 L623.9 1298.71 L619 1297.92 L614.1 1297.08 L609.2 1296.19 L604.3 1295.27 L599.4 1294.32 L594.5 1293.33 L589.6 1292.3"/>
<path d="M883.6 1309.3 L878.7 1309.29 L873.8 1309.29 L868.9 1309.3 L864 1309.3 L859.1 1309.3 L854.2 1309.3 L849.3 1309.3 L844.4 1309.3 L839.5 1309.29 L834.6 1309.29 L829.7 1309.28 L824.8 1309.28 L819.9 1309.28 L815 1309.27 L810.1 1309.26 L805.2 1309.25 L800.3 1309.23 L795.4 1309.21 L790.5 1309.18 L785.6 1309.16 L780.7 1309.13 L775.8 1309.1 L770.9 1309.06 L766 1309.02 L761.1 1308.97 L756.2 1308.91 L751.3 1308.85 L746.4 1308.77 L741.5 1308.69 L736.6 1308.6 L731.7 1308.51 L726.8 1308.4 L721.9 1308.29 L717 1308.18 L712.1 1308.04 L707.2 1307.87 L702.3 1307.7 L697.4 1307.5 L692.5 1307.3 L687.6 1307.1 L682.7 1306.88 L677.8 1306.65 L672.9 1306.4 L668 1306.12 L663.1 1305.81 L658.2 1305.48 L653.3 1305.12 L648.4 1304.75 L643.5 1304.36 L638.6 1303.95 L633.7 1303.52 L628.8 1303.07 L623.9 1302.58 L619 1302.06 L614.1 1301.49 L609.2 1300.9 L604.3 1300.27 L599.4 1299.62 L594.5 1298.94 L589.6 1298.23"/>
<path d="M883.6 1309.3 L878.7 1309.3 L873.8 1309.3 L868.9 1309.3 L864 1309.3 L859.1 1309.3 L854.2 1309.3 L849.3 1309.3 L844.4 1309.3 L839.5 1309.3 L834.6 1309.29 L829.7 1309.29 L824.8 1309.29 L819.9 1309.29 L815 1309.28 L810.1 1309.28 L805.2 1309.27 L800.3 1309.26 L795.4 1309.25 L790.5 1309.24 L785.6 1309.23 L780.7 1309.21 L775.8 1309.19 L770.9 1309.17 L766 1309.15 L761.1 1309.13 L756.2 1309.1 L751.3 1309.06 L746.4 1309.02 L741.5 1308.98 L736.6 1308.93 L731.7 1308.88 L726.8 1308.83 L721.9 1308.77 L717 1308.71 L712.1 1308.64 L707.2 1308.55 L702.3 1308.46 L697.4 1308.36 L692.5 1308.25 L687.6 1308.14 L682.7 1308.02 L677.8 1307.9 L672.9 1307.77 L668 1307.63 L663.1 1307.47 L658.2 1307.29 L653.3 1307.1 L648.4 1306.91 L643.5 1306.7 L638.6 1306.48 L633.7 1306.26 L628.8 1306.02 L623.9 1305.76 L619 1305.49 L614.1 1305.19 L609.2 1304.88 L604.3 1304.55 L599.4 1304.2 L594.5 1303.84 L589.6 1303.47"/>
</g>
<line x1="835.8" y1="1219" x2="757.5" y2="1304.3" stroke="#000" stroke-width="1.1"/>
<polygon points="754,1308.2 757.2,1299.6 761.6,1303.6" fill="#000"/>
<text class="ts" x="697.3" y="1040.3" font-size="20.7" textLength="169" lengthAdjust="spacingAndGlyphs">V<tspan font-size="13" dy="5">gs</tspan><tspan dy="-5"> : -3.6 V to 1.2 V</tspan></text>
<text class="ts" x="697.3" y="1070.8" font-size="20.7" textLength="169" lengthAdjust="spacingAndGlyphs">with a step of 0.4 V</text>
<rect x="589.6" y="1018" width="294" height="291.3" fill="none" stroke="#000" stroke-width="2.4"/>
<path d="M589.6 1309.3 h7.2M589.6 1251.05 h7.2M589.6 1192.8 h7.2M589.6 1134.55 h7.2M589.6 1076.3 h7.2M589.6 1018.05 h7.2" stroke="#000" stroke-width="1.7" fill="none"/>
<path d="M589.6 1280.17 h3.8M589.6 1221.92 h3.8M589.6 1163.67 h3.8M589.6 1105.42 h3.8M589.6 1047.17 h3.8" stroke="#000" stroke-width="1.7" fill="none"/>
<text class="ta" x="875.6" y="1336.5" font-size="23.3" text-anchor="middle">0.0</text>
<text class="ta" x="826.6" y="1336.5" font-size="23.3" text-anchor="middle">-0.2</text>
<text class="ta" x="777.6" y="1336.5" font-size="23.3" text-anchor="middle">-0.4</text>
<text class="ta" x="728.6" y="1336.5" font-size="23.3" text-anchor="middle">-0.6</text>
<text class="ta" x="679.6" y="1336.5" font-size="23.3" text-anchor="middle">-0.8</text>
<text class="ta" x="630.6" y="1336.5" font-size="23.3" text-anchor="middle">-1.0</text>
<text class="ta" x="581.6" y="1336.5" font-size="23.3" text-anchor="middle">-1.2</text>
<text class="ta" x="579.6" y="1322.6" font-size="23.2" text-anchor="end">0.0</text>
<text class="ta" x="579.6" y="1264.35" font-size="23.2" text-anchor="end">0.5</text>
<text class="ta" x="579.6" y="1206.1" font-size="23.2" text-anchor="end">1.0</text>
<text class="ta" x="579.6" y="1147.85" font-size="23.2" text-anchor="end">1.5</text>
<text class="ta" x="579.6" y="1089.6" font-size="23.2" text-anchor="end">2.0</text>
<text class="ta" x="579.6" y="1031.35" font-size="23.2" text-anchor="end">2.5</text>
<text class="ta" x="699.8" y="1360.8" font-size="24.5" textLength="73" lengthAdjust="spacingAndGlyphs"><tspan font-style="italic">V</tspan><tspan font-size="16.5" dy="5.5">ds</tspan><tspan dy="-5.5"> (V)</tspan></text>
<g transform="translate(539 1164) rotate(-90)">
<text class="ta" x="0" y="0" font-size="25" textLength="133" lengthAdjust="spacingAndGlyphs" text-anchor="middle">I<tspan font-size="16.5" dy="5.5">ds</tspan><tspan dy="-5.5"> (mA/</tspan><tspan font-weight="normal">μ</tspan>m)</text>
</g>
</g>
</svg>
</body>
</html>
